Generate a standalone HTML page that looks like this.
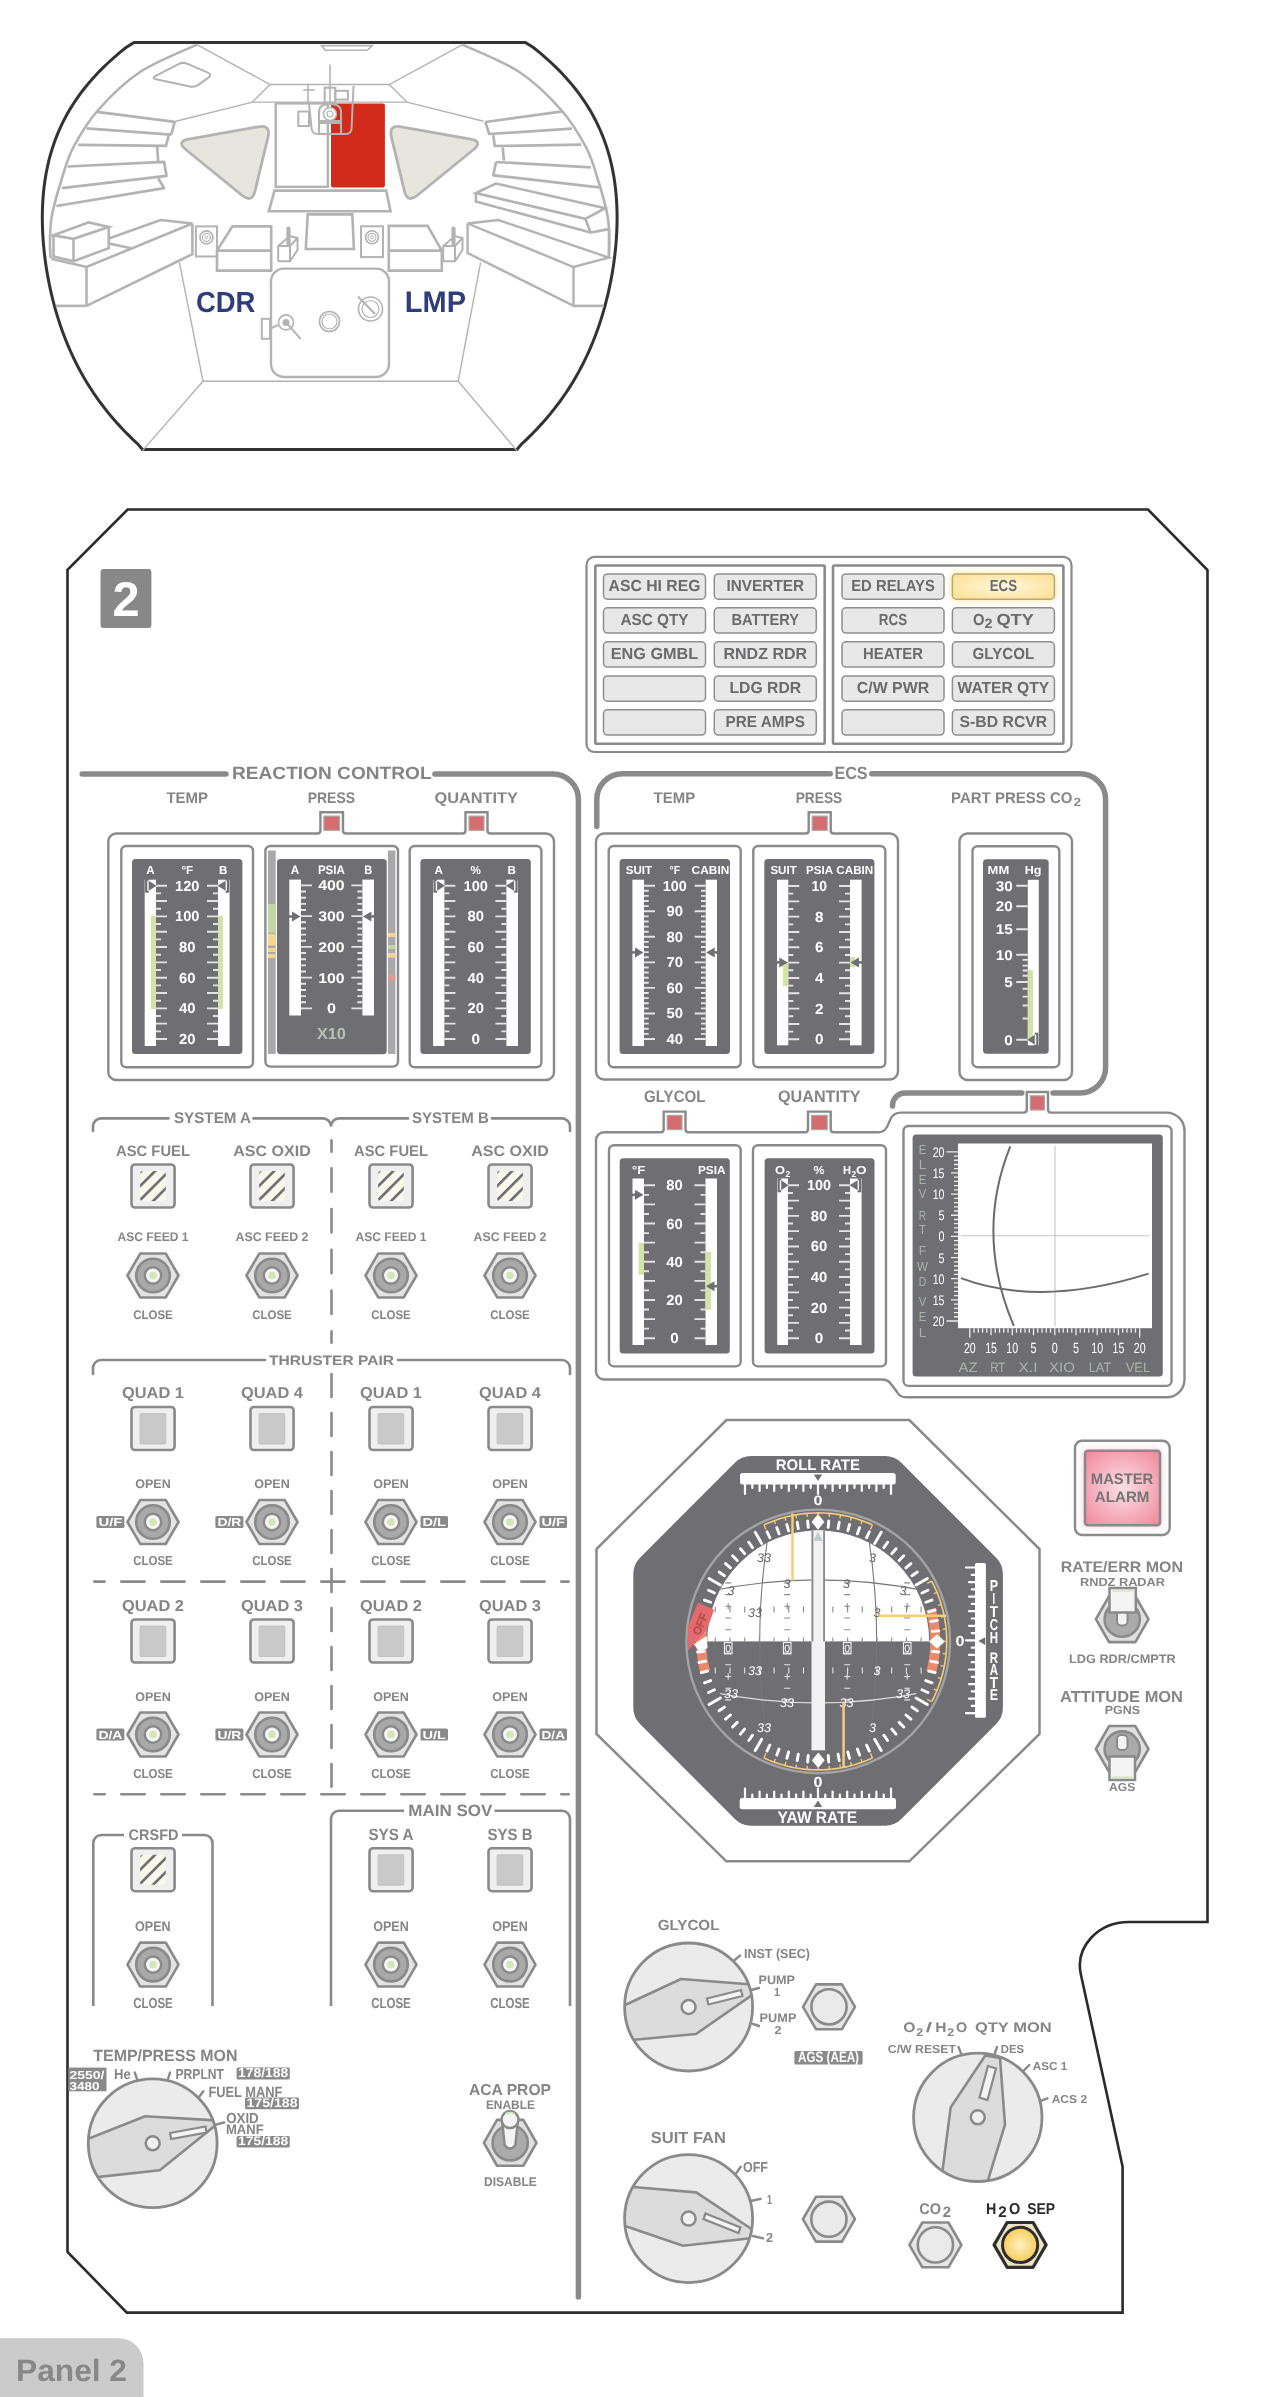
<!DOCTYPE html>
<html><head><meta charset="utf-8"><style>html,body{margin:0;padding:0;background:#fff;width:1275px;height:2397px;overflow:hidden}svg{display:block;opacity:0.999}</style></head>
<body><svg width="1275" height="2397" viewBox="0 0 1275 2397" font-family="Liberation Sans, sans-serif" text-rendering="geometricPrecision">
<path d="M134,42.4 L126.04,47.55 L119.66,52.7 L113.64,57.86 L107.95,63.01 L102.59,68.16 L97.53,73.31 L92.78,78.46 L88.31,83.62 L84.11,88.77 L80.19,93.92 L76.51,99.07 L73.08,104.22 L69.88,109.37 L66.91,114.53 L64.15,119.68 L61.6,124.83 L59.25,129.98 L57.08,135.13 L55.09,140.29 L53.28,145.44 L51.63,150.59 L50.13,155.74 L48.79,160.89 L47.6,166.05 L46.53,171.2 L45.61,176.35 L44.8,181.5 L44.12,186.65 L43.56,191.81 L43.1,196.96 L42.76,202.11 L42.51,207.26 L42.36,212.41 L42.31,217.56 L42.35,222.72 L42.49,227.87 L42.7,233.02 L43.01,238.17 L43.39,243.32 L43.86,248.48 L44.4,253.63 L45.03,258.78 L45.73,263.93 L46.51,269.08 L47.37,274.24 L48.31,279.39 L49.33,284.54 L50.43,289.69 L51.61,294.84 L52.87,299.99 L54.21,305.15 L55.65,310.3 L57.17,315.45 L58.78,320.6 L60.49,325.75 L62.3,330.91 L64.21,336.06 L66.23,341.21 L68.36,346.36 L70.6,351.51 L72.97,356.67 L75.46,361.82 L78.08,366.97 L80.84,372.12 L83.74,377.27 L86.8,382.43 L90.01,387.58 L93.38,392.73 L96.93,397.88 L100.66,403.03 L104.57,408.18 L108.69,413.34 L113,418.49 L117.54,423.64 L122.29,428.79 L127.28,433.94 L132.51,439.1 L138,444.25 L142.4,449.4 L517,449.4 L521.4,444.25 L526.89,439.1 L532.12,433.94 L537.11,428.79 L541.86,423.64 L546.4,418.49 L550.71,413.34 L554.83,408.18 L558.74,403.03 L562.47,397.88 L566.02,392.73 L569.39,387.58 L572.6,382.43 L575.66,377.27 L578.56,372.12 L581.32,366.97 L583.94,361.82 L586.43,356.67 L588.8,351.51 L591.04,346.36 L593.17,341.21 L595.19,336.06 L597.1,330.91 L598.91,325.75 L600.62,320.6 L602.23,315.45 L603.75,310.3 L605.19,305.15 L606.53,299.99 L607.79,294.84 L608.97,289.69 L610.07,284.54 L611.09,279.39 L612.03,274.24 L612.89,269.08 L613.67,263.93 L614.37,258.78 L615,253.63 L615.54,248.48 L616.01,243.32 L616.39,238.17 L616.7,233.02 L616.91,227.87 L617.05,222.72 L617.09,217.56 L617.04,212.41 L616.89,207.26 L616.64,202.11 L616.3,196.96 L615.84,191.81 L615.28,186.65 L614.6,181.5 L613.79,176.35 L612.87,171.2 L611.8,166.05 L610.61,160.89 L609.27,155.74 L607.77,150.59 L606.12,145.44 L604.31,140.29 L602.32,135.13 L600.15,129.98 L597.8,124.83 L595.25,119.68 L592.49,114.53 L589.52,109.37 L586.32,104.22 L582.89,99.07 L579.21,93.92 L575.29,88.77 L571.09,83.62 L566.62,78.46 L561.87,73.31 L556.81,68.16 L551.45,63.01 L545.76,57.86 L539.74,52.7 L533.36,47.55 L525.4,42.4 Z" fill="#fff" stroke="#333" stroke-width="3"/>
<path d="M197,44.6 C187.5,49.17 156.47,61.1 140,72 C123.53,82.9 109.37,97.33 98.2,110 C87.03,122.67 79.13,136.33 73,148 C66.87,159.67 64.9,168.83 61.4,180 C57.9,191.17 53.9,205 52,215 C50.1,225 50.25,232.83 50,240 C49.75,247.17 50.42,255 50.5,258" fill="none" stroke="#b3b3b3" stroke-width="2.6"/>
<path d="M462.4,44.6 C471.9,49.17 502.93,61.1 519.4,72 C535.87,82.9 550.03,97.33 561.2,110 C572.37,122.67 580.27,136.33 586.4,148 C592.53,159.67 594.5,168.83 598,180 C601.5,191.17 605.5,205 607.4,215 C609.3,225 609.15,232.83 609.4,240 C609.65,247.17 608.98,255 608.9,258" fill="none" stroke="#b3b3b3" stroke-width="2.6"/>
<polyline points="197,44.6 270,84.5 389.3,84.5 462.4,44.6" fill="none" stroke="#b3b3b3" stroke-width="1.4"/>
<polyline points="270,84.5 252.5,102.1 406.9,102.1 389.3,84.5" fill="none" stroke="#b3b3b3" stroke-width="1.4"/>
<polyline points="175.9,121.3 252.5,102.1" fill="none" stroke="#b3b3b3" stroke-width="1.4"/>
<polyline points="483.5,121.3 406.9,102.1" fill="none" stroke="#b3b3b3" stroke-width="1.4"/>
<polygon points="321.5,45.6 372.3,45.6 367.3,50.3 325.3,50.3" fill="none" stroke="#b3b3b3" stroke-width="1.6"/>
<path d="M156.09,79.26 Q151.2,78.2 155.64,75.91 L178.56,64.09 Q183,61.8 187.58,63.81 L207.82,72.69 Q212.4,74.7 208.36,77.64 L198.74,84.66 Q194.7,87.6 189.81,86.54 Z" fill="none" stroke="#b3b3b3" stroke-width="2"/>
<polyline points="97.1,111.9 174.7,121.8 171.2,134.7" fill="none" stroke="#b3b3b3" stroke-width="2.7" stroke-linejoin="round"/>
<polyline points="86.5,128.4 171.2,134.7" fill="none" stroke="#b3b3b3" stroke-width="2.7" stroke-linejoin="round"/>
<polyline points="168.8,134.7 166,145.8 78.2,144.8" fill="none" stroke="#b3b3b3" stroke-width="2.7" stroke-linejoin="round"/>
<polyline points="157.1,145.8 158.2,161.5" fill="none" stroke="#b3b3b3" stroke-width="2.7" stroke-linejoin="round"/>
<polyline points="67.6,166.5 164.1,161.8 166.5,175.9 61.8,188.1" fill="none" stroke="#b3b3b3" stroke-width="2.7" stroke-linejoin="round"/>
<polyline points="158.2,178.2 164.1,188.1 56.4,206" fill="none" stroke="#b3b3b3" stroke-width="2.7" stroke-linejoin="round"/>
<polyline points="485.3,122 562.7,111.3" fill="none" stroke="#b3b3b3" stroke-width="2.7" stroke-linejoin="round"/>
<polyline points="485.3,122 489.3,134 572,128.7" fill="none" stroke="#b3b3b3" stroke-width="2.7" stroke-linejoin="round"/>
<polyline points="493.3,135.3 494.7,146 581.3,144.7" fill="none" stroke="#b3b3b3" stroke-width="2.7" stroke-linejoin="round"/>
<polyline points="502.7,147.3 504,160.7" fill="none" stroke="#b3b3b3" stroke-width="2.7" stroke-linejoin="round"/>
<polyline points="496,162 493.3,175.3 598.7,187.3" fill="none" stroke="#b3b3b3" stroke-width="2.7" stroke-linejoin="round"/>
<polyline points="496,162 590.7,167.3" fill="none" stroke="#b3b3b3" stroke-width="2.7" stroke-linejoin="round"/>
<path d="M186.07,149.72 Q176,141.5 188.8,139.21 L258.2,126.79 Q271,124.5 267.96,137.14 L255.04,190.86 Q252,203.5 241.93,195.28 Z" fill="#e6e6df" stroke="#b3b3b3" stroke-width="2.8"/>
<path d="M473.33,149.72 Q483.4,141.5 470.6,139.21 L401.2,126.79 Q388.4,124.5 391.44,137.14 L404.36,190.86 Q407.4,203.5 417.47,195.28 Z" fill="#e6e6df" stroke="#b3b3b3" stroke-width="2.8"/>
<rect x="275.7" y="103.4" width="52.1" height="83.4" fill="none" stroke="#b3b3b3" stroke-width="2.4"/>
<rect x="331" y="103.4" width="53.9" height="84" rx="2" fill="#d22a1b"/>
<line x1="330" y1="64.5" x2="330" y2="103" stroke="#b3b3b3" stroke-width="1.6"/>
<path d="M309,103.4 L311.5,128 Q312,134.1 318,134.1 L345,134.1 Q351.6,134.1 351.6,128 L353.5,86" fill="none" stroke="#b3b3b3" stroke-width="2"/>
<rect x="298.3" y="111.5" width="10.7" height="14.5" fill="none" stroke="#b3b3b3" stroke-width="2"/>
<rect x="324.7" y="87.7" width="10.6" height="15" fill="none" stroke="#b3b3b3" stroke-width="2"/>
<rect x="335.3" y="90.8" width="12.6" height="8.8" fill="none" stroke="#b3b3b3" stroke-width="2"/>
<path d="M319,134 L319,112 Q319,104 330,104 Q341,104 341,112 L341,134" fill="none" stroke="#b3b3b3" stroke-width="2"/>
<circle cx="330" cy="114" r="6.5" fill="#fff" stroke="#b3b3b3" stroke-width="1.5"/>
<circle cx="330" cy="114" r="3" fill="none" stroke="#b3b3b3" stroke-width="1.2"/>
<rect x="318" y="120" width="22" height="4" fill="#b3b3b3"/>
<line x1="308" y1="84" x2="308" y2="103" stroke="#b3b3b3" stroke-width="1.6"/>
<line x1="303.3" y1="90" x2="315" y2="90" stroke="#b3b3b3" stroke-width="1.6"/>
<polygon points="274.5,190.6 386.2,190.6 390.5,211.3 268.8,211.3" fill="none" stroke="#b3b3b3" stroke-width="2.6"/>
<polygon points="307.7,214.4 352.3,214.4 353.9,249 305.8,249" fill="none" stroke="#b3b3b3" stroke-width="2.6"/>
<rect x="195.9" y="226.4" width="21.1" height="30.1" fill="none" stroke="#b3b3b3" stroke-width="2"/>
<circle cx="206.45" cy="237.4" r="6.5" fill="none" stroke="#b3b3b3" stroke-width="1.6"/>
<circle cx="206.45" cy="237.4" r="4" fill="none" stroke="#b3b3b3" stroke-width="1.2"/>
<circle cx="206.45" cy="237.4" r="1.5" fill="none" stroke="#b3b3b3" stroke-width="1"/>
<rect x="361" y="226.3" width="22" height="30.8" fill="none" stroke="#b3b3b3" stroke-width="2"/>
<circle cx="372" cy="237.3" r="6.5" fill="none" stroke="#b3b3b3" stroke-width="1.6"/>
<circle cx="372" cy="237.3" r="4" fill="none" stroke="#b3b3b3" stroke-width="1.2"/>
<circle cx="372" cy="237.3" r="1.5" fill="none" stroke="#b3b3b3" stroke-width="1"/>
<polyline points="217,250.6 232.4,226.4 271.2,226.4 271.2,270.6 217,270.6 217,250.6 271.2,250.6" fill="none" stroke="#b3b3b3" stroke-width="2.6"/>
<polyline points="441.8,250.6 427.6,225.9 388.8,225.9 388.8,270.6 441.8,270.6 441.8,250.6 388.8,250.6" fill="none" stroke="#b3b3b3" stroke-width="2.6"/>
<polyline points="278.2,261.2 278.2,246 290,236 297.5,238 297.5,250 290,261.2 278.2,261.2" fill="none" stroke="#b3b3b3" stroke-width="2"/>
<polyline points="278.2,246 290,246 297.5,238" fill="none" stroke="#b3b3b3" stroke-width="2"/>
<polyline points="290,246 290,261.2" fill="none" stroke="#b3b3b3" stroke-width="2"/>
<line x1="288.5" y1="228.5" x2="288.5" y2="244" stroke="#b3b3b3" stroke-width="4.2" stroke-linecap="round"/>
<polyline points="443.2,261.2 443.2,246 455,236 462.5,238 462.5,250 455,261.2 443.2,261.2" fill="none" stroke="#b3b3b3" stroke-width="2"/>
<polyline points="443.2,246 455,246 462.5,238" fill="none" stroke="#b3b3b3" stroke-width="2"/>
<polyline points="455,246 455,261.2" fill="none" stroke="#b3b3b3" stroke-width="2"/>
<line x1="453.5" y1="228.5" x2="453.5" y2="244" stroke="#b3b3b3" stroke-width="4.2" stroke-linecap="round"/>
<rect x="271" y="268.6" width="118" height="108.4" rx="13" fill="#fff" stroke="#b3b3b3" stroke-width="2.4"/>
<rect x="261.8" y="318.8" width="8.2" height="20" fill="none" stroke="#b3b3b3" stroke-width="2"/>
<line x1="270" y1="328.8" x2="278" y2="325" stroke="#b3b3b3" stroke-width="2"/>
<circle cx="286" cy="322.4" r="7.5" fill="none" stroke="#b3b3b3" stroke-width="1.6"/>
<circle cx="286" cy="322.4" r="3.5" fill="#b3b3b3"/>
<line x1="286" y1="322.4" x2="300.6" y2="338.8" stroke="#b3b3b3" stroke-width="2"/>
<circle cx="329.5" cy="321.5" r="10" fill="none" stroke="#b3b3b3" stroke-width="1.6"/>
<circle cx="329.5" cy="321.5" r="7.5" fill="none" stroke="#b3b3b3" stroke-width="1.2"/>
<circle cx="370.5" cy="309" r="12" fill="none" stroke="#b3b3b3" stroke-width="1.6"/>
<circle cx="370.5" cy="309" r="8.5" fill="none" stroke="#b3b3b3" stroke-width="1.2"/>
<line x1="358" y1="296.5" x2="375" y2="314" stroke="#b3b3b3" stroke-width="2"/>
<polygon points="53.5,235.3 88.8,222.4 108.8,227 73.5,238.8" fill="none" stroke="#b3b3b3" stroke-width="2.6"/>
<polyline points="53.5,235.3 53.5,256.5 73.5,261.2 73.5,238.8" fill="none" stroke="#b3b3b3" stroke-width="2.6"/>
<polyline points="73.5,261.2 108.8,248.2 108.8,227" fill="none" stroke="#b3b3b3" stroke-width="2.6"/>
<polyline points="51.2,258.8 86.5,267 192.4,223.5 160.6,220 108.8,238.5" fill="none" stroke="#b3b3b3" stroke-width="2.6"/>
<polyline points="108.8,243.5 131.2,248.2" fill="none" stroke="#b3b3b3" stroke-width="2.6"/>
<polyline points="86.5,267 86.5,305.9" fill="none" stroke="#b3b3b3" stroke-width="2.6"/>
<polyline points="192.4,223.5 192.4,254.1 86.5,305.9" fill="none" stroke="#b3b3b3" stroke-width="2.6"/>
<polyline points="55.8,305.9 86.5,305.9" fill="none" stroke="#b3b3b3" stroke-width="2.6"/>
<polygon points="467.6,223.5 498.2,220 608.8,257.6 573.5,267" fill="none" stroke="#b3b3b3" stroke-width="2.4"/>
<polyline points="467.6,223.5 467.6,253 573.5,305.9 573.5,267" fill="none" stroke="#b3b3b3" stroke-width="2.4"/>
<polyline points="608.8,257.6 609,229.1" fill="none" stroke="#b3b3b3" stroke-width="2.4"/>
<polyline points="573.5,305.9 604,305.9" fill="none" stroke="#b3b3b3" stroke-width="2.6"/>
<polygon points="475.9,193 495.9,183.5 605.3,208.2 585.3,218.8" fill="none" stroke="#b3b3b3" stroke-width="2.6"/>
<polyline points="475.9,193 475.9,201.5 590.6,232.6" fill="none" stroke="#b3b3b3" stroke-width="2.6"/>
<polyline points="585.3,218.8 590.6,232.6 609,229.1" fill="none" stroke="#b3b3b3" stroke-width="2.6"/>
<polyline points="179.4,262.4 203,381.2 458.2,381.2 480.6,262.4" fill="none" stroke="#b3b3b3" stroke-width="1.4"/>
<line x1="203" y1="381.2" x2="142.5" y2="450.6" stroke="#b3b3b3" stroke-width="1.4"/>
<line x1="458.2" y1="381.2" x2="516.9" y2="450.6" stroke="#b3b3b3" stroke-width="1.4"/>
<text x="225.65" y="311.8" font-size="29.07" fill="#2f3d7a" text-anchor="middle" font-weight="bold" textLength="59.5" lengthAdjust="spacingAndGlyphs">CDR</text>
<text x="435.4" y="312.2" font-size="29.65" fill="#2f3d7a" text-anchor="middle" font-weight="bold" textLength="61.2" lengthAdjust="spacingAndGlyphs">LMP</text>
<path d="M127.6,509.5 L1148,509.5 L1207.5,570 L1207.5,1922 L1129,1922 C1098,1922 1074.5,1947 1081,1975 L1122.6,2166.7 L1122.6,2312.6 L126.8,2312.6 L67.5,2252 L67.5,569.8 Z" fill="#fff" stroke="#2b2b2b" stroke-width="2.6"/>
<rect x="100.5" y="569" width="50.9" height="59" rx="3" fill="#888888"/>
<text x="126.15" y="616.4" font-size="48.84" fill="#fff" text-anchor="middle" font-weight="bold" textLength="27.1" lengthAdjust="spacingAndGlyphs">2</text>
<rect x="586.5" y="556.9" width="485" height="195.1" rx="8" fill="none" stroke="#8a8a8c" stroke-width="2.2"/>
<rect x="595.3" y="565.5" width="229.4" height="178.2" rx="1.5" fill="none" stroke="#8a8a8c" stroke-width="2.6"/>
<rect x="833" y="565.5" width="230.4" height="178.2" rx="1.5" fill="none" stroke="#8a8a8c" stroke-width="2.6"/>
<defs><radialGradient id="ecsg" cx="50%" cy="50%" r="60%"><stop offset="0" stop-color="#fff7dc"/><stop offset="1" stop-color="#fde39a"/></radialGradient><filter id="blur3" x="-30%" y="-80%" width="160%" height="260%"><feGaussianBlur stdDeviation="3"/></filter></defs>
<rect x="603.5" y="573.9" width="102" height="25.3" rx="4" fill="#e8e8e8" stroke="#8e8e8e" stroke-width="1.5"/>
<text x="654.5" y="591.2" font-size="15.99" fill="#6b6b6d" text-anchor="middle" font-weight="bold" textLength="92" lengthAdjust="spacingAndGlyphs">ASC HI REG</text>
<rect x="603.5" y="607.8" width="102" height="25.3" rx="4" fill="#e8e8e8" stroke="#8e8e8e" stroke-width="1.5"/>
<text x="654.5" y="625.1" font-size="15.99" fill="#6b6b6d" text-anchor="middle" font-weight="bold" textLength="68.2" lengthAdjust="spacingAndGlyphs">ASC QTY</text>
<rect x="603.5" y="641.8" width="102" height="25.3" rx="4" fill="#e8e8e8" stroke="#8e8e8e" stroke-width="1.5"/>
<text x="654.5" y="659.1" font-size="15.99" fill="#6b6b6d" text-anchor="middle" font-weight="bold" textLength="87.6" lengthAdjust="spacingAndGlyphs">ENG GMBL</text>
<rect x="603.5" y="675.9" width="102" height="25.3" rx="4" fill="#e8e8e8" stroke="#8e8e8e" stroke-width="1.5"/>
<rect x="603.5" y="709.8" width="102" height="25.3" rx="4" fill="#e8e8e8" stroke="#8e8e8e" stroke-width="1.5"/>
<rect x="714.3" y="573.9" width="102" height="25.3" rx="4" fill="#e8e8e8" stroke="#8e8e8e" stroke-width="1.5"/>
<text x="765.3" y="591.2" font-size="15.99" fill="#6b6b6d" text-anchor="middle" font-weight="bold" textLength="77.5" lengthAdjust="spacingAndGlyphs">INVERTER</text>
<rect x="714.3" y="607.8" width="102" height="25.3" rx="4" fill="#e8e8e8" stroke="#8e8e8e" stroke-width="1.5"/>
<text x="765.3" y="625.1" font-size="15.99" fill="#6b6b6d" text-anchor="middle" font-weight="bold" textLength="67.6" lengthAdjust="spacingAndGlyphs">BATTERY</text>
<rect x="714.3" y="641.8" width="102" height="25.3" rx="4" fill="#e8e8e8" stroke="#8e8e8e" stroke-width="1.5"/>
<text x="765.3" y="659.1" font-size="15.99" fill="#6b6b6d" text-anchor="middle" font-weight="bold" textLength="83.7" lengthAdjust="spacingAndGlyphs">RNDZ RDR</text>
<rect x="714.3" y="675.9" width="102" height="25.3" rx="4" fill="#e8e8e8" stroke="#8e8e8e" stroke-width="1.5"/>
<text x="765.3" y="693.2" font-size="15.99" fill="#6b6b6d" text-anchor="middle" font-weight="bold" textLength="71.6" lengthAdjust="spacingAndGlyphs">LDG RDR</text>
<rect x="714.3" y="709.8" width="102" height="25.3" rx="4" fill="#e8e8e8" stroke="#8e8e8e" stroke-width="1.5"/>
<text x="765.3" y="727.1" font-size="15.99" fill="#6b6b6d" text-anchor="middle" font-weight="bold" textLength="79.4" lengthAdjust="spacingAndGlyphs">PRE AMPS</text>
<rect x="842" y="573.9" width="102" height="25.3" rx="4" fill="#e8e8e8" stroke="#8e8e8e" stroke-width="1.5"/>
<text x="893" y="591.2" font-size="15.99" fill="#6b6b6d" text-anchor="middle" font-weight="bold" textLength="83.6" lengthAdjust="spacingAndGlyphs">ED RELAYS</text>
<rect x="842" y="607.8" width="102" height="25.3" rx="4" fill="#e8e8e8" stroke="#8e8e8e" stroke-width="1.5"/>
<text x="893" y="625.1" font-size="15.99" fill="#6b6b6d" text-anchor="middle" font-weight="bold" textLength="28.4" lengthAdjust="spacingAndGlyphs">RCS</text>
<rect x="842" y="641.8" width="102" height="25.3" rx="4" fill="#e8e8e8" stroke="#8e8e8e" stroke-width="1.5"/>
<text x="893" y="659.1" font-size="15.99" fill="#6b6b6d" text-anchor="middle" font-weight="bold" textLength="60" lengthAdjust="spacingAndGlyphs">HEATER</text>
<rect x="842" y="675.9" width="102" height="25.3" rx="4" fill="#e8e8e8" stroke="#8e8e8e" stroke-width="1.5"/>
<text x="893" y="693.2" font-size="15.99" fill="#6b6b6d" text-anchor="middle" font-weight="bold" textLength="72.4" lengthAdjust="spacingAndGlyphs">C/W PWR</text>
<rect x="842" y="709.8" width="102" height="25.3" rx="4" fill="#e8e8e8" stroke="#8e8e8e" stroke-width="1.5"/>
<rect x="950.4" y="571.9" width="106" height="29.3" rx="6" fill="#fde9a8" filter="url(#blur3)" opacity="0.9"/>
<rect x="952.4" y="573.9" width="102" height="25.3" rx="4" fill="url(#ecsg)" stroke="#b9a873" stroke-width="1.5"/>
<text x="1003.4" y="591.2" font-size="15.99" fill="#6b6b6d" text-anchor="middle" font-weight="bold" textLength="27.4" lengthAdjust="spacingAndGlyphs">ECS</text>
<rect x="952.4" y="607.8" width="102" height="25.3" rx="4" fill="#e8e8e8" stroke="#8e8e8e" stroke-width="1.5"/>
<text x="972.9" y="625.1" font-size="15.99" fill="#6b6b6d" font-weight="bold" textLength="11.5" lengthAdjust="spacingAndGlyphs">O</text>
<text x="984.4" y="627.8" font-size="13.5" fill="#6b6b6d" font-weight="bold" textLength="8" lengthAdjust="spacingAndGlyphs">2</text>
<text x="996.4" y="625.1" font-size="15.99" fill="#6b6b6d" font-weight="bold" textLength="37.5" lengthAdjust="spacingAndGlyphs">QTY</text>
<rect x="952.4" y="641.8" width="102" height="25.3" rx="4" fill="#e8e8e8" stroke="#8e8e8e" stroke-width="1.5"/>
<text x="1003.4" y="659.1" font-size="15.99" fill="#6b6b6d" text-anchor="middle" font-weight="bold" textLength="61.6" lengthAdjust="spacingAndGlyphs">GLYCOL</text>
<rect x="952.4" y="675.9" width="102" height="25.3" rx="4" fill="#e8e8e8" stroke="#8e8e8e" stroke-width="1.5"/>
<text x="1003.4" y="693.2" font-size="15.99" fill="#6b6b6d" text-anchor="middle" font-weight="bold" textLength="91.6" lengthAdjust="spacingAndGlyphs">WATER QTY</text>
<rect x="952.4" y="709.8" width="102" height="25.3" rx="4" fill="#e8e8e8" stroke="#8e8e8e" stroke-width="1.5"/>
<text x="1003.4" y="727.1" font-size="15.99" fill="#6b6b6d" text-anchor="middle" font-weight="bold" textLength="87.6" lengthAdjust="spacingAndGlyphs">S-BD RCVR</text>
<path d="M82.2,774 L226,774" fill="none" stroke="#8a8a8c" stroke-width="5.5" stroke-linecap="round" stroke-linejoin="round"/>
<path d="M434.9,774 L553,774 A25.4,25.4 0 0 1 578.4,799.4 L578.4,2297" fill="none" stroke="#8a8a8c" stroke-width="5.5" stroke-linecap="round" stroke-linejoin="round"/>
<path d="M596.8,826.4 L596.8,799.4 A25.6,25.6 0 0 1 622.4,773.8 L830.2,773.8" fill="none" stroke="#8a8a8c" stroke-width="5.5" stroke-linecap="round" stroke-linejoin="round"/>
<path d="M871.8,773.8 L1080,773.8 A25.6,25.6 0 0 1 1105.6,799.4 L1105.6,1067.4 A25.6,25.6 0 0 1 1080,1093 L1053,1093" fill="none" stroke="#8a8a8c" stroke-width="5.5" stroke-linecap="round" stroke-linejoin="round"/>
<path d="M1021.8,1093 L905,1093 A12.5,12.5 0 0 0 892.5,1105.5 L892.5,1106" fill="none" stroke="#8a8a8c" stroke-width="5.5" stroke-linecap="round" stroke-linejoin="round"/>
<text x="331.8" y="779.4" font-size="17.73" fill="#858585" text-anchor="middle" font-weight="bold" textLength="199.6" lengthAdjust="spacingAndGlyphs">REACTION CONTROL</text>
<text x="851" y="779.4" font-size="17.73" fill="#858585" text-anchor="middle" font-weight="bold" textLength="33.2" lengthAdjust="spacingAndGlyphs">ECS</text>
<text x="187.2" y="802.8" font-size="15.41" fill="#858585" text-anchor="middle" font-weight="bold" textLength="41.6" lengthAdjust="spacingAndGlyphs">TEMP</text>
<text x="331.4" y="802.8" font-size="15.41" fill="#858585" text-anchor="middle" font-weight="bold" textLength="47.4" lengthAdjust="spacingAndGlyphs">PRESS</text>
<text x="476.25" y="802.8" font-size="15.41" fill="#858585" text-anchor="middle" font-weight="bold" textLength="83.5" lengthAdjust="spacingAndGlyphs">QUANTITY</text>
<text x="674.4" y="802.8" font-size="15.41" fill="#858585" text-anchor="middle" font-weight="bold" textLength="41.6" lengthAdjust="spacingAndGlyphs">TEMP</text>
<text x="819" y="802.8" font-size="15.41" fill="#858585" text-anchor="middle" font-weight="bold" textLength="46.6" lengthAdjust="spacingAndGlyphs">PRESS</text>
<text x="951" y="802.8" font-size="15.41" fill="#858585" font-weight="bold" textLength="121.5" lengthAdjust="spacingAndGlyphs">PART PRESS CO</text>
<text x="1073.6" y="805.7" font-size="11.77" fill="#858585" font-weight="bold" textLength="7.5" lengthAdjust="spacingAndGlyphs">2</text>
<path d="M108.3,841.5 A8,8 0 0 1 116.3,833.5 L317.4,833.5 Q320.4,833.5 320.4,830.5 L320.4,812.3 L343,812.3 L343,830.5 Q343,833.5 346,833.5 L462.5,833.5 Q465.5,833.5 465.5,830.5 L465.5,812.3 L487.5,812.3 L487.5,830.5 Q487.5,833.5 490.5,833.5 L546,833.5 A8,8 0 0 1 554,841.5 L554,1072 A8,8 0 0 1 546,1080 L116.3,1080 A8,8 0 0 1 108.3,1072 Z" fill="none" stroke="#8a8a8c" stroke-width="2.4"/>
<rect x="323.9" y="816.1" width="15.6" height="14.2" fill="#d56c6f" stroke="#a9a9a9" stroke-width="1.2"/>
<rect x="469" y="816.1" width="15" height="14.2" fill="#d56c6f" stroke="#a9a9a9" stroke-width="1.2"/>
<rect x="121.3" y="846" width="131.7" height="221.3" rx="5" fill="#fff" stroke="#8a8a8c" stroke-width="2.4"/>
<rect x="132" y="859" width="110.4" height="195" rx="3.5" fill="#6f6e73"/>
<rect x="144.7" y="879.7" width="11.3" height="166.3" fill="#fff"/>
<rect x="218" y="879.7" width="11.6" height="166.3" fill="#fff"/>
<rect x="151" y="915.7" width="5" height="93.3" fill="#d3e2a6"/>
<rect x="218" y="915.7" width="5" height="93.3" fill="#d3e2a6"/>
<path d="M156,885.7H167M156,893.37H161M156,901.03H167M156,908.7H161M156,916.36H167M156,924.03H161M156,931.69H167M156,939.36H161M156,947.02H167M156,954.69H161M156,962.35H167M156,970.02H161M156,977.68H167M156,985.35H161M156,993.01H167M156,1000.68H161M156,1008.34H167M156,1016.01H161M156,1023.67H167M156,1031.34H161M156,1039H167" fill="none" stroke="#e4e4e4" stroke-width="1.9"/>
<path d="M218,885.7H207M218,893.37H213M218,901.03H207M218,908.7H213M218,916.36H207M218,924.03H213M218,931.69H207M218,939.36H213M218,947.02H207M218,954.69H213M218,962.35H207M218,970.02H213M218,977.68H207M218,985.35H213M218,993.01H207M218,1000.68H213M218,1008.34H207M218,1016.01H213M218,1023.67H207M218,1031.34H213M218,1039H207" fill="none" stroke="#e4e4e4" stroke-width="1.9"/>
<text x="187.3" y="890.7" font-size="14.53" fill="#fff" text-anchor="middle" font-weight="bold" textLength="24.4" lengthAdjust="spacingAndGlyphs">120</text>
<text x="187.3" y="921.36" font-size="14.53" fill="#fff" text-anchor="middle" font-weight="bold" textLength="24.4" lengthAdjust="spacingAndGlyphs">100</text>
<text x="187.3" y="952.02" font-size="14.53" fill="#fff" text-anchor="middle" font-weight="bold" textLength="16.5" lengthAdjust="spacingAndGlyphs">80</text>
<text x="187.3" y="982.68" font-size="14.53" fill="#fff" text-anchor="middle" font-weight="bold" textLength="16.5" lengthAdjust="spacingAndGlyphs">60</text>
<text x="187.3" y="1013.34" font-size="14.53" fill="#fff" text-anchor="middle" font-weight="bold" textLength="16.5" lengthAdjust="spacingAndGlyphs">40</text>
<text x="187.3" y="1044" font-size="14.53" fill="#fff" text-anchor="middle" font-weight="bold" textLength="16.5" lengthAdjust="spacingAndGlyphs">20</text>
<text x="150.4" y="874" font-size="11.63" fill="#fff" text-anchor="middle" font-weight="bold">A</text>
<text x="187.3" y="874" font-size="11.63" fill="#fff" text-anchor="middle" font-weight="bold">°F</text>
<text x="223.3" y="874" font-size="11.63" fill="#fff" text-anchor="middle" font-weight="bold">B</text>
<polyline points="146.2,879.7 146.2,891.7" fill="none" stroke="#6f6e73" stroke-width="2.2"/><polyline points="145.2,879.7 148.7,879.7" fill="none" stroke="#6f6e73" stroke-width="2"/><polyline points="145.2,891.7 148.7,891.7" fill="none" stroke="#6f6e73" stroke-width="2"/><polygon points="156.5,885.7 148.7,880.7 148.7,890.7" fill="#6f6e73" stroke="none" stroke-width="0"/>
<polyline points="228.1,879.7 228.1,891.7" fill="none" stroke="#6f6e73" stroke-width="2.2"/><polyline points="229.1,879.7 225.6,879.7" fill="none" stroke="#6f6e73" stroke-width="2"/><polyline points="229.1,891.7 225.6,891.7" fill="none" stroke="#6f6e73" stroke-width="2"/><polygon points="217.5,885.7 225.6,880.7 225.6,890.7" fill="#6f6e73" stroke="none" stroke-width="0"/>
<rect x="409.7" y="846" width="131.7" height="221.3" rx="5" fill="#fff" stroke="#8a8a8c" stroke-width="2.4"/>
<rect x="420.4" y="859" width="110.4" height="195" rx="3.5" fill="#6f6e73"/>
<rect x="433.1" y="879.7" width="11.3" height="166.3" fill="#fff"/>
<rect x="506.4" y="879.7" width="11.6" height="166.3" fill="#fff"/>
<path d="M444.4,885.7H455.4M444.4,893.37H449.4M444.4,901.03H455.4M444.4,908.7H449.4M444.4,916.36H455.4M444.4,924.03H449.4M444.4,931.69H455.4M444.4,939.36H449.4M444.4,947.02H455.4M444.4,954.69H449.4M444.4,962.35H455.4M444.4,970.02H449.4M444.4,977.68H455.4M444.4,985.35H449.4M444.4,993.01H455.4M444.4,1000.68H449.4M444.4,1008.34H455.4M444.4,1016.01H449.4M444.4,1023.67H455.4M444.4,1031.34H449.4M444.4,1039H455.4" fill="none" stroke="#e4e4e4" stroke-width="1.9"/>
<path d="M506.4,885.7H495.4M506.4,893.37H501.4M506.4,901.03H495.4M506.4,908.7H501.4M506.4,916.36H495.4M506.4,924.03H501.4M506.4,931.69H495.4M506.4,939.36H501.4M506.4,947.02H495.4M506.4,954.69H501.4M506.4,962.35H495.4M506.4,970.02H501.4M506.4,977.68H495.4M506.4,985.35H501.4M506.4,993.01H495.4M506.4,1000.68H501.4M506.4,1008.34H495.4M506.4,1016.01H501.4M506.4,1023.67H495.4M506.4,1031.34H501.4M506.4,1039H495.4" fill="none" stroke="#e4e4e4" stroke-width="1.9"/>
<text x="475.7" y="890.7" font-size="14.53" fill="#fff" text-anchor="middle" font-weight="bold" textLength="24.4" lengthAdjust="spacingAndGlyphs">100</text>
<text x="475.7" y="921.36" font-size="14.53" fill="#fff" text-anchor="middle" font-weight="bold" textLength="16.5" lengthAdjust="spacingAndGlyphs">80</text>
<text x="475.7" y="952.02" font-size="14.53" fill="#fff" text-anchor="middle" font-weight="bold" textLength="16.5" lengthAdjust="spacingAndGlyphs">60</text>
<text x="475.7" y="982.68" font-size="14.53" fill="#fff" text-anchor="middle" font-weight="bold" textLength="16.5" lengthAdjust="spacingAndGlyphs">40</text>
<text x="475.7" y="1013.34" font-size="14.53" fill="#fff" text-anchor="middle" font-weight="bold" textLength="16.5" lengthAdjust="spacingAndGlyphs">20</text>
<text x="475.7" y="1044" font-size="14.53" fill="#fff" text-anchor="middle" font-weight="bold" textLength="8.5" lengthAdjust="spacingAndGlyphs">0</text>
<text x="438.8" y="874" font-size="11.63" fill="#fff" text-anchor="middle" font-weight="bold">A</text>
<text x="475.7" y="874" font-size="11.63" fill="#fff" text-anchor="middle" font-weight="bold">%</text>
<text x="511.7" y="874" font-size="11.63" fill="#fff" text-anchor="middle" font-weight="bold">B</text>
<polyline points="434.6,879.7 434.6,891.7" fill="none" stroke="#6f6e73" stroke-width="2.2"/><polyline points="433.6,879.7 437.1,879.7" fill="none" stroke="#6f6e73" stroke-width="2"/><polyline points="433.6,891.7 437.1,891.7" fill="none" stroke="#6f6e73" stroke-width="2"/><polygon points="444.9,885.7 437.1,880.7 437.1,890.7" fill="#6f6e73" stroke="none" stroke-width="0"/>
<polyline points="516.5,879.7 516.5,891.7" fill="none" stroke="#6f6e73" stroke-width="2.2"/><polyline points="517.5,879.7 514,879.7" fill="none" stroke="#6f6e73" stroke-width="2"/><polyline points="517.5,891.7 514,891.7" fill="none" stroke="#6f6e73" stroke-width="2"/><polygon points="505.9,885.7 514,880.7 514,890.7" fill="#6f6e73" stroke="none" stroke-width="0"/>
<rect x="265.4" y="846" width="132.6" height="220.6" rx="5" fill="#fff" stroke="#8a8a8c" stroke-width="2.4"/>
<rect x="277" y="859" width="109.7" height="195.3" rx="3.5" fill="#6f6e73"/>
<rect x="268" y="850.5" width="7.7" height="203.5" fill="#a9a9a9"/>
<rect x="388" y="850.5" width="7.4" height="203.5" fill="#a9a9a9"/>
<rect x="268" y="904" width="7.7" height="29" fill="#c2d6a2"/>
<rect x="268" y="934" width="7.7" height="11.6" fill="#f6d58e"/>
<rect x="268" y="948" width="7.7" height="4" fill="#f6d58e"/>
<rect x="268" y="954" width="7.7" height="4" fill="#f6d58e"/>
<rect x="388" y="933" width="7.4" height="4" fill="#f6d58e"/>
<rect x="388" y="945" width="7.4" height="4" fill="#c2d6a2"/>
<rect x="388" y="953" width="7.4" height="4.6" fill="#f6d58e"/>
<rect x="388" y="975" width="7.4" height="5.5" fill="#e39a8e"/>
<rect x="289.3" y="879.6" width="11.7" height="135.9" fill="#fff"/>
<rect x="362.4" y="879.6" width="11.6" height="135.9" fill="#fff"/>
<path d="M301,885.4H312M301,891.55H306M301,897.7H306M301,903.85H306M301,910H306M301,916.15H312M301,922.3H306M301,928.45H306M301,934.6H306M301,940.75H306M301,946.9H312M301,953.05H306M301,959.2H306M301,965.35H306M301,971.5H306M301,977.65H312M301,983.8H306M301,989.95H306M301,996.1H306M301,1002.25H306M301,1008.4H312" fill="none" stroke="#e4e4e4" stroke-width="1.9"/>
<path d="M362.4,885.4H351.4M362.4,891.55H357.4M362.4,897.7H357.4M362.4,903.85H357.4M362.4,910H357.4M362.4,916.15H351.4M362.4,922.3H357.4M362.4,928.45H357.4M362.4,934.6H357.4M362.4,940.75H357.4M362.4,946.9H351.4M362.4,953.05H357.4M362.4,959.2H357.4M362.4,965.35H357.4M362.4,971.5H357.4M362.4,977.65H351.4M362.4,983.8H357.4M362.4,989.95H357.4M362.4,996.1H357.4M362.4,1002.25H357.4M362.4,1008.4H351.4" fill="none" stroke="#e4e4e4" stroke-width="1.9"/>
<text x="331.4" y="890.25" font-size="14.1" fill="#fff" text-anchor="middle" font-weight="bold" textLength="26.5" lengthAdjust="spacingAndGlyphs">400</text>
<text x="331.4" y="921" font-size="14.1" fill="#fff" text-anchor="middle" font-weight="bold" textLength="26.5" lengthAdjust="spacingAndGlyphs">300</text>
<text x="331.4" y="951.75" font-size="14.1" fill="#fff" text-anchor="middle" font-weight="bold" textLength="26.5" lengthAdjust="spacingAndGlyphs">200</text>
<text x="331.4" y="982.5" font-size="14.1" fill="#fff" text-anchor="middle" font-weight="bold" textLength="26.5" lengthAdjust="spacingAndGlyphs">100</text>
<text x="331.4" y="1013.25" font-size="14.1" fill="#fff" text-anchor="middle" font-weight="bold" textLength="9" lengthAdjust="spacingAndGlyphs">0</text>
<text x="295.1" y="873.8" font-size="12.21" fill="#fff" text-anchor="middle" font-weight="bold" textLength="8.5" lengthAdjust="spacingAndGlyphs">A</text>
<text x="331.4" y="873.8" font-size="12.21" fill="#fff" text-anchor="middle" font-weight="bold" textLength="27" lengthAdjust="spacingAndGlyphs">PSIA</text>
<text x="368.2" y="873.8" font-size="12.21" fill="#fff" text-anchor="middle" font-weight="bold" textLength="8" lengthAdjust="spacingAndGlyphs">B</text>
<text x="331.4" y="1039.4" font-size="15.99" fill="#b5c1b1" text-anchor="middle" font-weight="bold" textLength="29" lengthAdjust="spacingAndGlyphs">X10</text>
<polygon points="300.5,916.5 292,911.5 292,921.5" fill="#6f6e73" stroke="none" stroke-width="0"/><line x1="292.5" y1="916.5" x2="289" y2="916.5" stroke="#6f6e73" stroke-width="2.5"/>
<polygon points="362.9,916.5 371.4,911.5 371.4,921.5" fill="#6f6e73" stroke="none" stroke-width="0"/><line x1="370.9" y1="916.5" x2="374.4" y2="916.5" stroke="#6f6e73" stroke-width="2.5"/>
<path d="M596,841.5 A8,8 0 0 1 604,833.5 L805.7,833.5 Q808.7,833.5 808.7,830.5 L808.7,812.3 L830.7,812.3 L830.7,830.5 Q830.7,833.5 833.7,833.5 L890,833.5 A8,8 0 0 1 898,841.5 L898,1071.5 A8,8 0 0 1 890,1079.5 L604,1079.5 A8,8 0 0 1 596,1071.5 Z" fill="none" stroke="#8a8a8c" stroke-width="2.4"/>
<rect x="812.2" y="816.1" width="15" height="14.2" fill="#d56c6f" stroke="#a9a9a9" stroke-width="1.2"/>
<rect x="608.7" y="846" width="132" height="221.3" rx="5" fill="#fff" stroke="#8a8a8c" stroke-width="2.4"/>
<rect x="619.6" y="859" width="110.4" height="195" rx="3.5" fill="#6f6e73"/>
<rect x="632.4" y="879.7" width="11.6" height="166.3" fill="#fff"/>
<rect x="705.7" y="879.7" width="11.3" height="166.3" fill="#fff"/>
<path d="M644,885.7H655M644,890.81H648.7M644,895.92H648.7M644,901.03H648.7M644,906.14H648.7M644,911.25H655M644,916.36H648.7M644,921.47H648.7M644,926.58H648.7M644,931.69H648.7M644,936.8H655M644,941.91H648.7M644,947.02H648.7M644,952.13H648.7M644,957.24H648.7M644,962.35H655M644,967.46H648.7M644,972.57H648.7M644,977.68H648.7M644,982.79H648.7M644,987.9H655M644,993.01H648.7M644,998.12H648.7M644,1003.23H648.7M644,1008.34H648.7M644,1013.45H655M644,1018.56H648.7M644,1023.67H648.7M644,1028.78H648.7M644,1033.89H648.7M644,1039H655" fill="none" stroke="#e4e4e4" stroke-width="1.9"/>
<path d="M705.7,885.7H694.7M705.7,890.81H701M705.7,895.92H701M705.7,901.03H701M705.7,906.14H701M705.7,911.25H694.7M705.7,916.36H701M705.7,921.47H701M705.7,926.58H701M705.7,931.69H701M705.7,936.8H694.7M705.7,941.91H701M705.7,947.02H701M705.7,952.13H701M705.7,957.24H701M705.7,962.35H694.7M705.7,967.46H701M705.7,972.57H701M705.7,977.68H701M705.7,982.79H701M705.7,987.9H694.7M705.7,993.01H701M705.7,998.12H701M705.7,1003.23H701M705.7,1008.34H701M705.7,1013.45H694.7M705.7,1018.56H701M705.7,1023.67H701M705.7,1028.78H701M705.7,1033.89H701M705.7,1039H694.7" fill="none" stroke="#e4e4e4" stroke-width="1.9"/>
<text x="674.7" y="890.7" font-size="14.53" fill="#fff" text-anchor="middle" font-weight="bold" textLength="24" lengthAdjust="spacingAndGlyphs">100</text>
<text x="674.7" y="916.25" font-size="14.53" fill="#fff" text-anchor="middle" font-weight="bold" textLength="16.5" lengthAdjust="spacingAndGlyphs">90</text>
<text x="674.7" y="941.8" font-size="14.53" fill="#fff" text-anchor="middle" font-weight="bold" textLength="16.5" lengthAdjust="spacingAndGlyphs">80</text>
<text x="674.7" y="967.35" font-size="14.53" fill="#fff" text-anchor="middle" font-weight="bold" textLength="16.5" lengthAdjust="spacingAndGlyphs">70</text>
<text x="674.7" y="992.9" font-size="14.53" fill="#fff" text-anchor="middle" font-weight="bold" textLength="16.5" lengthAdjust="spacingAndGlyphs">60</text>
<text x="674.7" y="1018.45" font-size="14.53" fill="#fff" text-anchor="middle" font-weight="bold" textLength="16.5" lengthAdjust="spacingAndGlyphs">50</text>
<text x="674.7" y="1044" font-size="14.53" fill="#fff" text-anchor="middle" font-weight="bold" textLength="16.5" lengthAdjust="spacingAndGlyphs">40</text>
<text x="638.85" y="874" font-size="11.63" fill="#fff" text-anchor="middle" font-weight="bold" textLength="26.3" lengthAdjust="spacingAndGlyphs">SUIT</text>
<text x="674.8" y="874" font-size="11.63" fill="#fff" text-anchor="middle" font-weight="bold" textLength="10.4" lengthAdjust="spacingAndGlyphs">°F</text>
<text x="710.45" y="874" font-size="11.63" fill="#fff" text-anchor="middle" font-weight="bold" textLength="37.7" lengthAdjust="spacingAndGlyphs">CABIN</text>
<polygon points="643.5,952.4 635,947.4 635,957.4" fill="#6f6e73" stroke="none" stroke-width="0"/><line x1="635.5" y1="952.4" x2="632" y2="952.4" stroke="#6f6e73" stroke-width="2.5"/>
<polygon points="706.2,952.4 714.7,947.4 714.7,957.4" fill="#6f6e73" stroke="none" stroke-width="0"/><line x1="714.2" y1="952.4" x2="717.7" y2="952.4" stroke="#6f6e73" stroke-width="2.5"/>
<rect x="753.3" y="846" width="132" height="221.3" rx="5" fill="#fff" stroke="#8a8a8c" stroke-width="2.4"/>
<rect x="764.3" y="859" width="110.1" height="195" rx="3.5" fill="#6f6e73"/>
<rect x="777" y="879.7" width="11.3" height="165.6" fill="#fff"/>
<rect x="850" y="879.7" width="11.6" height="165.6" fill="#fff"/>
<rect x="783" y="962" width="5.3" height="24" fill="#d3e2a6"/>
<polygon points="850,957 855,957 855,967 850,967" fill="#d3e2a6" stroke="none" stroke-width="0"/>
<path d="M788.3,886H799.3M788.3,893.66H793.3M788.3,901.33H799.3M788.3,909H793.3M788.3,916.66H799.3M788.3,924.33H793.3M788.3,931.99H799.3M788.3,939.65H793.3M788.3,947.32H799.3M788.3,954.99H793.3M788.3,962.65H799.3M788.3,970.32H793.3M788.3,977.98H799.3M788.3,985.64H793.3M788.3,993.31H799.3M788.3,1000.98H793.3M788.3,1008.64H799.3M788.3,1016.31H793.3M788.3,1023.97H799.3M788.3,1031.63H793.3M788.3,1039.3H799.3" fill="none" stroke="#e4e4e4" stroke-width="1.9"/>
<path d="M850,886H839M850,893.66H845M850,901.33H839M850,909H845M850,916.66H839M850,924.33H845M850,931.99H839M850,939.65H845M850,947.32H839M850,954.99H845M850,962.65H839M850,970.32H845M850,977.98H839M850,985.64H845M850,993.31H839M850,1000.98H845M850,1008.64H839M850,1016.31H845M850,1023.97H839M850,1031.63H845M850,1039.3H839" fill="none" stroke="#e4e4e4" stroke-width="1.9"/>
<text x="819.3" y="891" font-size="14.53" fill="#fff" text-anchor="middle" font-weight="bold" textLength="15.5" lengthAdjust="spacingAndGlyphs">10</text>
<text x="819.3" y="921.66" font-size="14.53" fill="#fff" text-anchor="middle" font-weight="bold" textLength="8.5" lengthAdjust="spacingAndGlyphs">8</text>
<text x="819.3" y="952.32" font-size="14.53" fill="#fff" text-anchor="middle" font-weight="bold" textLength="8.5" lengthAdjust="spacingAndGlyphs">6</text>
<text x="819.3" y="982.98" font-size="14.53" fill="#fff" text-anchor="middle" font-weight="bold" textLength="8.5" lengthAdjust="spacingAndGlyphs">4</text>
<text x="819.3" y="1013.64" font-size="14.53" fill="#fff" text-anchor="middle" font-weight="bold" textLength="8.5" lengthAdjust="spacingAndGlyphs">2</text>
<text x="819.3" y="1044.3" font-size="14.53" fill="#fff" text-anchor="middle" font-weight="bold" textLength="8.5" lengthAdjust="spacingAndGlyphs">0</text>
<text x="783.55" y="874" font-size="11.63" fill="#fff" text-anchor="middle" font-weight="bold" textLength="26.3" lengthAdjust="spacingAndGlyphs">SUIT</text>
<text x="819.5" y="874" font-size="11.63" fill="#fff" text-anchor="middle" font-weight="bold" textLength="27" lengthAdjust="spacingAndGlyphs">PSIA</text>
<text x="854.8" y="874" font-size="11.63" fill="#fff" text-anchor="middle" font-weight="bold" textLength="37" lengthAdjust="spacingAndGlyphs">CABIN</text>
<polygon points="787.8,962.4 779.3,957.4 779.3,967.4" fill="#6f6e73" stroke="none" stroke-width="0"/><line x1="779.8" y1="962.4" x2="776.3" y2="962.4" stroke="#6f6e73" stroke-width="2.5"/>
<polygon points="850.5,962.4 859,957.4 859,967.4" fill="#6f6e73" stroke="none" stroke-width="0"/><line x1="858.5" y1="962.4" x2="862" y2="962.4" stroke="#6f6e73" stroke-width="2.5"/>
<path d="M959.5,841.5 A8,8 0 0 1 967.5,833.5 L1064,833.5 A8,8 0 0 1 1072,841.5 L1072,1072 A8,8 0 0 1 1064,1080 L967.5,1080 A8,8 0 0 1 959.5,1072 Z" fill="none" stroke="#8a8a8c" stroke-width="2.4"/>
<rect x="972.5" y="846.2" width="86.8" height="221" rx="5" fill="#fff" stroke="#8a8a8c" stroke-width="2.4"/>
<rect x="983" y="859.2" width="65.7" height="194.6" rx="3.5" fill="#6f6e73"/>
<rect x="1027.8" y="879.8" width="11" height="165.5" fill="#fff"/>
<rect x="1027.8" y="969.8" width="5.1" height="69.9" fill="#d3e2a6"/>
<path d="M1016.2,885.8H1027.8M1016.2,906.2H1027.8M1016.2,929.3H1027.8M1016.2,954.7H1027.8M1016.2,982H1027.8M1016.2,1039.7H1027.8M1022.6,959.9H1027.8M1022.6,965.6H1027.8M1022.6,970.5H1027.8M1022.6,975.8H1027.8M1022.6,988.8H1027.8M1022.6,996.6H1027.8M1022.6,1005.5H1027.8M1022.6,1018.5H1027.8" fill="none" stroke="#e4e4e4" stroke-width="1.9"/>
<text x="1012.7" y="890.65" font-size="14.1" fill="#fff" text-anchor="end" font-weight="bold" textLength="17" lengthAdjust="spacingAndGlyphs">30</text>
<text x="1012.7" y="911.05" font-size="14.1" fill="#fff" text-anchor="end" font-weight="bold" textLength="17" lengthAdjust="spacingAndGlyphs">20</text>
<text x="1012.7" y="934.15" font-size="14.1" fill="#fff" text-anchor="end" font-weight="bold" textLength="17" lengthAdjust="spacingAndGlyphs">15</text>
<text x="1012.7" y="959.55" font-size="14.1" fill="#fff" text-anchor="end" font-weight="bold" textLength="17" lengthAdjust="spacingAndGlyphs">10</text>
<text x="1012.7" y="986.85" font-size="14.1" fill="#fff" text-anchor="end" font-weight="bold" textLength="8.5" lengthAdjust="spacingAndGlyphs">5</text>
<text x="1012.7" y="1044.55" font-size="14.1" fill="#fff" text-anchor="end" font-weight="bold" textLength="8.5" lengthAdjust="spacingAndGlyphs">0</text>
<text x="998.4" y="874.2" font-size="11.63" fill="#fff" text-anchor="middle" font-weight="bold" textLength="21.6" lengthAdjust="spacingAndGlyphs">MM</text>
<text x="1033.05" y="874.2" font-size="11.63" fill="#fff" text-anchor="middle" font-weight="bold" textLength="16.7" lengthAdjust="spacingAndGlyphs">Hg</text>
<polyline points="1037.3,1033.7 1037.3,1045.7" fill="none" stroke="#6f6e73" stroke-width="2.2"/><polyline points="1038.3,1033.7 1034.8,1033.7" fill="none" stroke="#6f6e73" stroke-width="2"/><polyline points="1038.3,1045.7 1034.8,1045.7" fill="none" stroke="#6f6e73" stroke-width="2"/><polygon points="1027.3,1039.7 1034.8,1034.7 1034.8,1044.7" fill="#6f6e73" stroke="none" stroke-width="0"/>
<path d="M596,1140.3 A8,8 0 0 1 604,1132.3 L660.7,1132.3 Q663.7,1132.3 663.7,1129.3 L663.7,1111.6 L685.5,1111.6 L685.5,1129.3 Q685.5,1132.3 688.5,1132.3 L805,1132.3 Q808,1132.3 808,1129.3 L808,1111.6 L830.7,1111.6 L830.7,1129.3 Q830.7,1132.3 833.7,1132.3 L878,1132.3 Q884,1132.3 887,1127 L891,1118 Q894,1112.6 901,1112.6 L1023.8,1112.6 Q1026.8,1112.6 1026.8,1109.6 L1026.8,1092 L1048,1092 L1048,1109.6 Q1048,1112.6 1051,1112.6 L1166.5,1112.6 A18,18 0 0 1 1184.5,1130.6 L1184.5,1379.3 A18,18 0 0 1 1166.5,1397.3 L906,1397.3 Q900,1397.3 897,1392 L891,1384 Q888,1379.5 882,1379.5 L604,1379.5 A8,8 0 0 1 596,1371.5 Z" fill="none" stroke="#8a8a8c" stroke-width="2.4"/>
<rect x="667.2" y="1115.4" width="14.8" height="14.2" fill="#d56c6f" stroke="#a9a9a9" stroke-width="1.2"/>
<rect x="811.5" y="1115.4" width="15.7" height="14.2" fill="#d56c6f" stroke="#a9a9a9" stroke-width="1.2"/>
<rect x="1030.3" y="1095.8" width="14.2" height="14.2" fill="#d56c6f" stroke="#a9a9a9" stroke-width="1.2"/>
<rect x="609" y="1145.2" width="131.7" height="221.2" rx="5" fill="#fff" stroke="#8a8a8c" stroke-width="2.4"/>
<rect x="619.7" y="1158.3" width="110.1" height="195.2" rx="3.5" fill="#6f6e73"/>
<rect x="632.5" y="1178.5" width="11.5" height="166.5" fill="#fff"/>
<rect x="705.5" y="1178.5" width="11.5" height="166.5" fill="#fff"/>
<rect x="638.6" y="1243" width="5.4" height="31.5" fill="#d3e2a6"/>
<rect x="705.5" y="1252" width="5.5" height="57.8" fill="#d3e2a6"/>
<path d="M644,1185.3H655M644,1194.86H649M644,1204.41H655M644,1213.97H649M644,1223.52H655M644,1233.08H649M644,1242.64H655M644,1252.19H649M644,1261.75H655M644,1271.31H649M644,1280.86H655M644,1290.42H649M644,1299.97H655M644,1309.53H649M644,1319.09H655M644,1328.64H649M644,1338.2H655" fill="none" stroke="#e4e4e4" stroke-width="1.9"/>
<path d="M705.5,1185.3H694.5M705.5,1194.86H700.5M705.5,1204.41H694.5M705.5,1213.97H700.5M705.5,1223.52H694.5M705.5,1233.08H700.5M705.5,1242.64H694.5M705.5,1252.19H700.5M705.5,1261.75H694.5M705.5,1271.31H700.5M705.5,1280.86H694.5M705.5,1290.42H700.5M705.5,1299.97H694.5M705.5,1309.53H700.5M705.5,1319.09H694.5M705.5,1328.64H700.5M705.5,1338.2H694.5" fill="none" stroke="#e4e4e4" stroke-width="1.9"/>
<text x="674.6" y="1190.3" font-size="14.53" fill="#fff" text-anchor="middle" font-weight="bold" textLength="16.5" lengthAdjust="spacingAndGlyphs">80</text>
<text x="674.6" y="1228.52" font-size="14.53" fill="#fff" text-anchor="middle" font-weight="bold" textLength="16.5" lengthAdjust="spacingAndGlyphs">60</text>
<text x="674.6" y="1266.75" font-size="14.53" fill="#fff" text-anchor="middle" font-weight="bold" textLength="16.5" lengthAdjust="spacingAndGlyphs">40</text>
<text x="674.6" y="1304.97" font-size="14.53" fill="#fff" text-anchor="middle" font-weight="bold" textLength="16.5" lengthAdjust="spacingAndGlyphs">20</text>
<text x="674.6" y="1343.2" font-size="14.53" fill="#fff" text-anchor="middle" font-weight="bold" textLength="8.5" lengthAdjust="spacingAndGlyphs">0</text>
<text x="638.75" y="1174.3" font-size="11.63" fill="#fff" text-anchor="middle" font-weight="bold" textLength="13.5" lengthAdjust="spacingAndGlyphs">°F</text>
<text x="711.75" y="1174.3" font-size="11.63" fill="#fff" text-anchor="middle" font-weight="bold" textLength="27.5" lengthAdjust="spacingAndGlyphs">PSIA</text>
<polygon points="643.5,1194.8 635,1189.8 635,1199.8" fill="#6f6e73" stroke="none" stroke-width="0"/><line x1="635.5" y1="1194.8" x2="632" y2="1194.8" stroke="#6f6e73" stroke-width="2.5"/>
<polygon points="706,1286.2 714.5,1281.2 714.5,1291.2" fill="#6f6e73" stroke="none" stroke-width="0"/><line x1="714" y1="1286.2" x2="717.5" y2="1286.2" stroke="#6f6e73" stroke-width="2.5"/>
<rect x="753" y="1145.2" width="133" height="221.2" rx="5" fill="#fff" stroke="#8a8a8c" stroke-width="2.4"/>
<rect x="764.6" y="1158.3" width="109.9" height="195.2" rx="3.5" fill="#6f6e73"/>
<rect x="777.2" y="1178.5" width="10.8" height="166.5" fill="#fff"/>
<rect x="850" y="1178.5" width="11.6" height="166.5" fill="#fff"/>
<path d="M788,1185.3H799M788,1192.94H793M788,1200.59H799M788,1208.23H793M788,1215.88H799M788,1223.52H793M788,1231.17H799M788,1238.82H793M788,1246.46H799M788,1254.11H793M788,1261.75H799M788,1269.39H793M788,1277.04H799M788,1284.68H793M788,1292.33H799M788,1299.97H793M788,1307.62H799M788,1315.26H793M788,1322.91H799M788,1330.55H793M788,1338.2H799" fill="none" stroke="#e4e4e4" stroke-width="1.9"/>
<path d="M850,1185.3H839M850,1192.94H845M850,1200.59H839M850,1208.23H845M850,1215.88H839M850,1223.52H845M850,1231.17H839M850,1238.82H845M850,1246.46H839M850,1254.11H845M850,1261.75H839M850,1269.39H845M850,1277.04H839M850,1284.68H845M850,1292.33H839M850,1299.97H845M850,1307.62H839M850,1315.26H845M850,1322.91H839M850,1330.55H845M850,1338.2H839" fill="none" stroke="#e4e4e4" stroke-width="1.9"/>
<text x="819" y="1190.3" font-size="14.53" fill="#fff" text-anchor="middle" font-weight="bold" textLength="24" lengthAdjust="spacingAndGlyphs">100</text>
<text x="819" y="1220.88" font-size="14.53" fill="#fff" text-anchor="middle" font-weight="bold" textLength="16.5" lengthAdjust="spacingAndGlyphs">80</text>
<text x="819" y="1251.46" font-size="14.53" fill="#fff" text-anchor="middle" font-weight="bold" textLength="16.5" lengthAdjust="spacingAndGlyphs">60</text>
<text x="819" y="1282.04" font-size="14.53" fill="#fff" text-anchor="middle" font-weight="bold" textLength="16.5" lengthAdjust="spacingAndGlyphs">40</text>
<text x="819" y="1312.62" font-size="14.53" fill="#fff" text-anchor="middle" font-weight="bold" textLength="16.5" lengthAdjust="spacingAndGlyphs">20</text>
<text x="819" y="1343.2" font-size="14.53" fill="#fff" text-anchor="middle" font-weight="bold" textLength="8.5" lengthAdjust="spacingAndGlyphs">0</text>
<text x="780" y="1174.3" font-size="11.63" fill="#fff" text-anchor="middle" font-weight="bold" textLength="10" lengthAdjust="spacingAndGlyphs">O</text>
<text x="785.5" y="1177" font-size="8.5" fill="#fff" font-weight="bold">2</text>
<text x="819" y="1174.3" font-size="11.63" fill="#fff" text-anchor="middle" font-weight="bold" textLength="11" lengthAdjust="spacingAndGlyphs">%</text>
<text x="847" y="1174.3" font-size="11.63" fill="#fff" text-anchor="middle" font-weight="bold" textLength="8" lengthAdjust="spacingAndGlyphs">H</text>
<text x="851.5" y="1177" font-size="8.5" fill="#fff" font-weight="bold">2</text>
<text x="861.25" y="1174.3" font-size="11.63" fill="#fff" text-anchor="middle" font-weight="bold" textLength="10.5" lengthAdjust="spacingAndGlyphs">O</text>
<polyline points="778.7,1179.3 778.7,1191.3" fill="none" stroke="#6f6e73" stroke-width="2.2"/><polyline points="777.7,1179.3 781.2,1179.3" fill="none" stroke="#6f6e73" stroke-width="2"/><polyline points="777.7,1191.3 781.2,1191.3" fill="none" stroke="#6f6e73" stroke-width="2"/><polygon points="788.5,1185.3 781.2,1180.3 781.2,1190.3" fill="#6f6e73" stroke="none" stroke-width="0"/>
<polyline points="860.1,1179.3 860.1,1191.3" fill="none" stroke="#6f6e73" stroke-width="2.2"/><polyline points="861.1,1179.3 857.6,1179.3" fill="none" stroke="#6f6e73" stroke-width="2"/><polyline points="861.1,1191.3 857.6,1191.3" fill="none" stroke="#6f6e73" stroke-width="2"/><polygon points="849.5,1185.3 857.6,1180.3 857.6,1190.3" fill="#6f6e73" stroke="none" stroke-width="0"/>
<text x="674.75" y="1102.4" font-size="16.57" fill="#858585" text-anchor="middle" font-weight="bold" textLength="61.5" lengthAdjust="spacingAndGlyphs">GLYCOL</text>
<text x="819.3" y="1102.4" font-size="16.57" fill="#858585" text-anchor="middle" font-weight="bold" textLength="82.6" lengthAdjust="spacingAndGlyphs">QUANTITY</text>
<rect x="903.5" y="1126" width="268" height="259.9" rx="5" fill="#fff" stroke="#8a8a8c" stroke-width="2.4"/>
<rect x="912.6" y="1134.6" width="250.2" height="241.9" rx="3.5" fill="#6f6e73"/>
<rect x="958" y="1143.5" width="194" height="184.7" fill="#fff"/>
<line x1="1055" y1="1146" x2="1055" y2="1326" stroke="#c4c4c4" stroke-width="1.1"/>
<line x1="961" y1="1235.8" x2="1149" y2="1235.8" stroke="#c4c4c4" stroke-width="1.1"/>
<path d="M1010.3,1146.4 Q974.8,1234.4 1013.8,1325.9" fill="none" stroke="#6a6a6e" stroke-width="2"/>
<path d="M960.9,1278.1 Q1040,1307.8 1148.6,1273.6" fill="none" stroke="#6a6a6e" stroke-width="2"/>
<path d="M958,1151.8H946.5M958,1156.03H954M958,1160.26H954M958,1164.49H954M958,1168.72H954M958,1172.95H951M958,1177.18H954M958,1181.41H954M958,1185.64H954M958,1189.87H954M958,1194.1H951M958,1198.33H954M958,1202.56H954M958,1206.79H954M958,1211.02H954M958,1215.25H951M958,1219.48H954M958,1223.71H954M958,1227.94H954M958,1232.17H954M958,1236.4H951M958,1240.63H954M958,1244.86H954M958,1249.09H954M958,1253.32H954M958,1257.55H951M958,1261.78H954M958,1266.01H954M958,1270.24H954M958,1274.47H954M958,1278.7H951M958,1282.93H954M958,1287.16H954M958,1291.39H954M958,1295.62H954M958,1299.85H951M958,1304.08H954M958,1308.31H954M958,1312.54H954M958,1316.77H954M958,1321H946.5M969.8,1328.2V1337.7M974.05,1328.2V1332.7M978.29,1328.2V1332.7M982.54,1328.2V1332.7M986.79,1328.2V1332.7M991.04,1328.2V1335.2M995.28,1328.2V1332.7M999.53,1328.2V1332.7M1003.78,1328.2V1332.7M1008.03,1328.2V1332.7M1012.27,1328.2V1335.2M1016.52,1328.2V1332.7M1020.77,1328.2V1332.7M1025.02,1328.2V1332.7M1029.26,1328.2V1332.7M1033.51,1328.2V1335.2M1037.76,1328.2V1332.7M1042.01,1328.2V1332.7M1046.26,1328.2V1332.7M1050.5,1328.2V1332.7M1054.75,1328.2V1335.2M1059,1328.2V1332.7M1063.24,1328.2V1332.7M1067.49,1328.2V1332.7M1071.74,1328.2V1332.7M1075.99,1328.2V1335.2M1080.24,1328.2V1332.7M1084.48,1328.2V1332.7M1088.73,1328.2V1332.7M1092.98,1328.2V1332.7M1097.22,1328.2V1335.2M1101.47,1328.2V1332.7M1105.72,1328.2V1332.7M1109.97,1328.2V1332.7M1114.22,1328.2V1332.7M1118.46,1328.2V1335.2M1122.71,1328.2V1332.7M1126.96,1328.2V1332.7M1131.2,1328.2V1332.7M1135.45,1328.2V1332.7M1139.7,1328.2V1337.7" fill="none" stroke="#ececec" stroke-width="1.3"/>
<text x="944.5" y="1156.8" font-size="13.8" fill="#fff" text-anchor="end" textLength="11.8" lengthAdjust="spacingAndGlyphs">20</text>
<text x="944.5" y="1177.95" font-size="13.8" fill="#fff" text-anchor="end" textLength="11.8" lengthAdjust="spacingAndGlyphs">15</text>
<text x="944.5" y="1199.1" font-size="13.8" fill="#fff" text-anchor="end" textLength="11.8" lengthAdjust="spacingAndGlyphs">10</text>
<text x="944.5" y="1220.25" font-size="13.8" fill="#fff" text-anchor="end" textLength="6" lengthAdjust="spacingAndGlyphs">5</text>
<text x="944.5" y="1241.4" font-size="13.8" fill="#fff" text-anchor="end" textLength="6" lengthAdjust="spacingAndGlyphs">0</text>
<text x="944.5" y="1262.55" font-size="13.8" fill="#fff" text-anchor="end" textLength="6" lengthAdjust="spacingAndGlyphs">5</text>
<text x="944.5" y="1283.7" font-size="13.8" fill="#fff" text-anchor="end" textLength="11.8" lengthAdjust="spacingAndGlyphs">10</text>
<text x="944.5" y="1304.85" font-size="13.8" fill="#fff" text-anchor="end" textLength="11.8" lengthAdjust="spacingAndGlyphs">15</text>
<text x="944.5" y="1326" font-size="13.8" fill="#fff" text-anchor="end" textLength="11.8" lengthAdjust="spacingAndGlyphs">20</text>
<text x="969.8" y="1353" font-size="14.8" fill="#fff" text-anchor="middle" textLength="11.8" lengthAdjust="spacingAndGlyphs">20</text>
<text x="991.04" y="1353" font-size="14.8" fill="#fff" text-anchor="middle" textLength="11.8" lengthAdjust="spacingAndGlyphs">15</text>
<text x="1012.27" y="1353" font-size="14.8" fill="#fff" text-anchor="middle" textLength="11.8" lengthAdjust="spacingAndGlyphs">10</text>
<text x="1033.51" y="1353" font-size="14.8" fill="#fff" text-anchor="middle" textLength="6" lengthAdjust="spacingAndGlyphs">5</text>
<text x="1054.75" y="1353" font-size="14.8" fill="#fff" text-anchor="middle" textLength="6" lengthAdjust="spacingAndGlyphs">0</text>
<text x="1075.99" y="1353" font-size="14.8" fill="#fff" text-anchor="middle" textLength="6" lengthAdjust="spacingAndGlyphs">5</text>
<text x="1097.22" y="1353" font-size="14.8" fill="#fff" text-anchor="middle" textLength="11.8" lengthAdjust="spacingAndGlyphs">10</text>
<text x="1118.46" y="1353" font-size="14.8" fill="#fff" text-anchor="middle" textLength="11.8" lengthAdjust="spacingAndGlyphs">15</text>
<text x="1139.7" y="1353" font-size="14.8" fill="#fff" text-anchor="middle" textLength="11.8" lengthAdjust="spacingAndGlyphs">20</text>
<text x="922.5" y="1154" font-size="13" fill="#a9b4a6" text-anchor="middle" textLength="7.5" lengthAdjust="spacingAndGlyphs">E</text>
<text x="922.5" y="1169.4" font-size="13" fill="#a9b4a6" text-anchor="middle" textLength="7.5" lengthAdjust="spacingAndGlyphs">L</text>
<text x="922.5" y="1183.5" font-size="13" fill="#a9b4a6" text-anchor="middle" textLength="7.5" lengthAdjust="spacingAndGlyphs">E</text>
<text x="922.5" y="1197.6" font-size="13" fill="#a9b4a6" text-anchor="middle" textLength="7.5" lengthAdjust="spacingAndGlyphs">V</text>
<text x="922.5" y="1220" font-size="13" fill="#a9b4a6" text-anchor="middle" textLength="7.5" lengthAdjust="spacingAndGlyphs">R</text>
<text x="922.5" y="1234" font-size="13" fill="#a9b4a6" text-anchor="middle" textLength="7.5" lengthAdjust="spacingAndGlyphs">T</text>
<text x="922.5" y="1255.3" font-size="13" fill="#a9b4a6" text-anchor="middle" textLength="7.5" lengthAdjust="spacingAndGlyphs">F</text>
<text x="922.5" y="1270.6" font-size="13" fill="#a9b4a6" text-anchor="middle" textLength="11" lengthAdjust="spacingAndGlyphs">W</text>
<text x="922.5" y="1285.9" font-size="13" fill="#a9b4a6" text-anchor="middle" textLength="7.5" lengthAdjust="spacingAndGlyphs">D</text>
<text x="922.5" y="1305.9" font-size="13" fill="#a9b4a6" text-anchor="middle" textLength="7.5" lengthAdjust="spacingAndGlyphs">V</text>
<text x="922.5" y="1321.2" font-size="13" fill="#a9b4a6" text-anchor="middle" textLength="7.5" lengthAdjust="spacingAndGlyphs">E</text>
<text x="922.5" y="1336.5" font-size="13" fill="#a9b4a6" text-anchor="middle" textLength="7.5" lengthAdjust="spacingAndGlyphs">L</text>
<text x="968" y="1372.2" font-size="13.7" fill="#a9b4a6" text-anchor="middle" textLength="19" lengthAdjust="spacingAndGlyphs">AZ</text>
<text x="997.8" y="1372.2" font-size="13.7" fill="#a9b4a6" text-anchor="middle" textLength="15.3" lengthAdjust="spacingAndGlyphs">RT</text>
<text x="1028" y="1372.2" font-size="13.7" fill="#a9b4a6" text-anchor="middle" textLength="19" lengthAdjust="spacingAndGlyphs">X.I</text>
<text x="1062" y="1372.2" font-size="13.7" fill="#a9b4a6" text-anchor="middle" textLength="26" lengthAdjust="spacingAndGlyphs">XIO</text>
<text x="1100" y="1372.2" font-size="13.7" fill="#a9b4a6" text-anchor="middle" textLength="22.4" lengthAdjust="spacingAndGlyphs">LAT</text>
<text x="1138" y="1372.2" font-size="13.7" fill="#a9b4a6" text-anchor="middle" textLength="24.7" lengthAdjust="spacingAndGlyphs">VEL</text>
<path d="M93,1131 L93,1126.4 A8,8 0 0 1 101,1118.4 L168.5,1118.4 M253.5,1118.4 L323,1118.4 A8,8 0 0 1 331,1126.4 A8,8 0 0 1 339,1118.4 L408,1118.4 M492,1118.4 L562,1118.4 A8,8 0 0 1 570,1126.4 L570,1131" fill="none" stroke="#8a8a8c" stroke-width="2.6" stroke-linecap="round"/>
<text x="212.5" y="1123" font-size="15.41" fill="#858585" text-anchor="middle" font-weight="bold" textLength="77" lengthAdjust="spacingAndGlyphs">SYSTEM A</text>
<text x="450.4" y="1123" font-size="15.41" fill="#858585" text-anchor="middle" font-weight="bold" textLength="76.8" lengthAdjust="spacingAndGlyphs">SYSTEM B</text>
<text x="153" y="1156" font-size="15.12" fill="#858585" text-anchor="middle" font-weight="bold" textLength="74" lengthAdjust="spacingAndGlyphs">ASC FUEL</text>
<text x="153" y="1241" font-size="12.5" fill="#858585" text-anchor="middle" font-weight="bold" textLength="71" lengthAdjust="spacingAndGlyphs">ASC FEED 1</text>
<rect x="131.5" y="1164.5" width="43.1" height="43" rx="3.5" fill="#efefef" stroke="#8a8a8c" stroke-width="2.6"/><clipPath id="hc1"><rect x="140.1" y="1171.1" width="25.7" height="29.9" rx="2.5"/></clipPath><rect x="140.1" y="1171.1" width="25.7" height="29.9" rx="2.5" fill="#f8f9ea"/><g clip-path="url(#hc1)"><path d="M146.1,1166.1 L106.2,1206 M160.1,1166.1 L120.2,1206 M174.1,1166.1 L134.2,1206 M188.1,1166.1 L148.2,1206 M202.1,1166.1 L162.2,1206 " fill="none" stroke="#707075" stroke-width="2.7"/></g>
<polygon points="127.45,1275.5 140.22,1253.55 165.78,1253.55 178.55,1275.5 165.78,1297.45 140.22,1297.45" fill="#e4e4e4" stroke="#8a8a8c" stroke-width="2.6" stroke-linejoin="round"/><circle cx="153" cy="1275.5" r="16.75" fill="#a9a9a9" stroke="#8a8a8c" stroke-width="2.7"/><circle cx="153" cy="1275.5" r="8.2" fill="#f6f6f6" stroke="#8a8a8c" stroke-width="2.5"/><circle cx="153" cy="1275.5" r="3.85" fill="#d4e6b8"/>
<text x="153" y="1318.6" font-size="12.5" fill="#858585" text-anchor="middle" font-weight="bold" textLength="39.6" lengthAdjust="spacingAndGlyphs">CLOSE</text>
<text x="272" y="1156" font-size="15.12" fill="#858585" text-anchor="middle" font-weight="bold" textLength="77.6" lengthAdjust="spacingAndGlyphs">ASC OXID</text>
<text x="272" y="1241" font-size="12.5" fill="#858585" text-anchor="middle" font-weight="bold" textLength="73" lengthAdjust="spacingAndGlyphs">ASC FEED 2</text>
<rect x="250.5" y="1164.5" width="43.1" height="43" rx="3.5" fill="#efefef" stroke="#8a8a8c" stroke-width="2.6"/><clipPath id="hc2"><rect x="259.1" y="1171.1" width="25.7" height="29.9" rx="2.5"/></clipPath><rect x="259.1" y="1171.1" width="25.7" height="29.9" rx="2.5" fill="#f8f9ea"/><g clip-path="url(#hc2)"><path d="M265.1,1166.1 L225.2,1206 M279.1,1166.1 L239.2,1206 M293.1,1166.1 L253.2,1206 M307.1,1166.1 L267.2,1206 M321.1,1166.1 L281.2,1206 " fill="none" stroke="#707075" stroke-width="2.7"/></g>
<polygon points="246.45,1275.5 259.23,1253.55 284.77,1253.55 297.55,1275.5 284.77,1297.45 259.23,1297.45" fill="#e4e4e4" stroke="#8a8a8c" stroke-width="2.6" stroke-linejoin="round"/><circle cx="272" cy="1275.5" r="16.75" fill="#a9a9a9" stroke="#8a8a8c" stroke-width="2.7"/><circle cx="272" cy="1275.5" r="8.2" fill="#f6f6f6" stroke="#8a8a8c" stroke-width="2.5"/><circle cx="272" cy="1275.5" r="3.85" fill="#d4e6b8"/>
<text x="272" y="1318.6" font-size="12.5" fill="#858585" text-anchor="middle" font-weight="bold" textLength="39.6" lengthAdjust="spacingAndGlyphs">CLOSE</text>
<text x="391" y="1156" font-size="15.12" fill="#858585" text-anchor="middle" font-weight="bold" textLength="74" lengthAdjust="spacingAndGlyphs">ASC FUEL</text>
<text x="391" y="1241" font-size="12.5" fill="#858585" text-anchor="middle" font-weight="bold" textLength="71" lengthAdjust="spacingAndGlyphs">ASC FEED 1</text>
<rect x="369.5" y="1164.5" width="43.1" height="43" rx="3.5" fill="#efefef" stroke="#8a8a8c" stroke-width="2.6"/><clipPath id="hc3"><rect x="378.1" y="1171.1" width="25.7" height="29.9" rx="2.5"/></clipPath><rect x="378.1" y="1171.1" width="25.7" height="29.9" rx="2.5" fill="#f8f9ea"/><g clip-path="url(#hc3)"><path d="M384.1,1166.1 L344.2,1206 M398.1,1166.1 L358.2,1206 M412.1,1166.1 L372.2,1206 M426.1,1166.1 L386.2,1206 M440.1,1166.1 L400.2,1206 " fill="none" stroke="#707075" stroke-width="2.7"/></g>
<polygon points="365.45,1275.5 378.23,1253.55 403.77,1253.55 416.55,1275.5 403.77,1297.45 378.23,1297.45" fill="#e4e4e4" stroke="#8a8a8c" stroke-width="2.6" stroke-linejoin="round"/><circle cx="391" cy="1275.5" r="16.75" fill="#a9a9a9" stroke="#8a8a8c" stroke-width="2.7"/><circle cx="391" cy="1275.5" r="8.2" fill="#f6f6f6" stroke="#8a8a8c" stroke-width="2.5"/><circle cx="391" cy="1275.5" r="3.85" fill="#d4e6b8"/>
<text x="391" y="1318.6" font-size="12.5" fill="#858585" text-anchor="middle" font-weight="bold" textLength="39.6" lengthAdjust="spacingAndGlyphs">CLOSE</text>
<text x="510" y="1156" font-size="15.12" fill="#858585" text-anchor="middle" font-weight="bold" textLength="77.6" lengthAdjust="spacingAndGlyphs">ASC OXID</text>
<text x="510" y="1241" font-size="12.5" fill="#858585" text-anchor="middle" font-weight="bold" textLength="73" lengthAdjust="spacingAndGlyphs">ASC FEED 2</text>
<rect x="488.5" y="1164.5" width="43.1" height="43" rx="3.5" fill="#efefef" stroke="#8a8a8c" stroke-width="2.6"/><clipPath id="hc4"><rect x="497.1" y="1171.1" width="25.7" height="29.9" rx="2.5"/></clipPath><rect x="497.1" y="1171.1" width="25.7" height="29.9" rx="2.5" fill="#f8f9ea"/><g clip-path="url(#hc4)"><path d="M503.1,1166.1 L463.2,1206 M517.1,1166.1 L477.2,1206 M531.1,1166.1 L491.2,1206 M545.1,1166.1 L505.2,1206 M559.1,1166.1 L519.2,1206 " fill="none" stroke="#707075" stroke-width="2.7"/></g>
<polygon points="484.45,1275.5 497.23,1253.55 522.77,1253.55 535.55,1275.5 522.77,1297.45 497.23,1297.45" fill="#e4e4e4" stroke="#8a8a8c" stroke-width="2.6" stroke-linejoin="round"/><circle cx="510" cy="1275.5" r="16.75" fill="#a9a9a9" stroke="#8a8a8c" stroke-width="2.7"/><circle cx="510" cy="1275.5" r="8.2" fill="#f6f6f6" stroke="#8a8a8c" stroke-width="2.5"/><circle cx="510" cy="1275.5" r="3.85" fill="#d4e6b8"/>
<text x="510" y="1318.6" font-size="12.5" fill="#858585" text-anchor="middle" font-weight="bold" textLength="39.6" lengthAdjust="spacingAndGlyphs">CLOSE</text>
<path d="M93,1374 L93,1368 A8,8 0 0 1 101,1360 L265,1360 M398,1360 L562,1360 A8,8 0 0 1 570,1368 L570,1374" fill="none" stroke="#8a8a8c" stroke-width="2.6" stroke-linecap="round"/>
<text x="331.5" y="1364.7" font-size="13.66" fill="#858585" text-anchor="middle" font-weight="bold" textLength="125" lengthAdjust="spacingAndGlyphs">THRUSTER PAIR</text>
<text x="153" y="1398.4" font-size="15.7" fill="#858585" text-anchor="middle" font-weight="bold" textLength="62" lengthAdjust="spacingAndGlyphs">QUAD 1</text>
<rect x="131.5" y="1407" width="43.1" height="43" rx="3.5" fill="#efefef" stroke="#8a8a8c" stroke-width="2.6"/><rect x="140.1" y="1413.6" width="25.7" height="30.4" rx="1" fill="#c9c9c9" stroke="#bdbdbd" stroke-width="0.8"/>
<text x="153" y="1488" font-size="12.5" fill="#858585" text-anchor="middle" font-weight="bold" textLength="35.6" lengthAdjust="spacingAndGlyphs">OPEN</text>
<polygon points="127.45,1522 140.22,1500.05 165.78,1500.05 178.55,1522 165.78,1543.95 140.22,1543.95" fill="#e4e4e4" stroke="#8a8a8c" stroke-width="2.6" stroke-linejoin="round"/><circle cx="153" cy="1522" r="16.75" fill="#a9a9a9" stroke="#8a8a8c" stroke-width="2.7"/><circle cx="153" cy="1522" r="8.2" fill="#f6f6f6" stroke="#8a8a8c" stroke-width="2.5"/><circle cx="153" cy="1522" r="3.85" fill="#d4e6b8"/>
<text x="153" y="1565" font-size="13.08" fill="#858585" text-anchor="middle" font-weight="bold" textLength="39.6" lengthAdjust="spacingAndGlyphs">CLOSE</text>
<rect x="96.4" y="1516.1" width="28" height="11.8" rx="1.5" fill="#8a8a8a"/><text x="110.4" y="1526.3" font-size="11.5" fill="#fff" text-anchor="middle" font-weight="bold" textLength="24" lengthAdjust="spacingAndGlyphs">U/F</text>
<text x="272" y="1398.4" font-size="15.7" fill="#858585" text-anchor="middle" font-weight="bold" textLength="62" lengthAdjust="spacingAndGlyphs">QUAD 4</text>
<rect x="250.5" y="1407" width="43.1" height="43" rx="3.5" fill="#efefef" stroke="#8a8a8c" stroke-width="2.6"/><rect x="259.1" y="1413.6" width="25.7" height="30.4" rx="1" fill="#c9c9c9" stroke="#bdbdbd" stroke-width="0.8"/>
<text x="272" y="1488" font-size="12.5" fill="#858585" text-anchor="middle" font-weight="bold" textLength="35.6" lengthAdjust="spacingAndGlyphs">OPEN</text>
<polygon points="246.45,1522 259.23,1500.05 284.77,1500.05 297.55,1522 284.77,1543.95 259.23,1543.95" fill="#e4e4e4" stroke="#8a8a8c" stroke-width="2.6" stroke-linejoin="round"/><circle cx="272" cy="1522" r="16.75" fill="#a9a9a9" stroke="#8a8a8c" stroke-width="2.7"/><circle cx="272" cy="1522" r="8.2" fill="#f6f6f6" stroke="#8a8a8c" stroke-width="2.5"/><circle cx="272" cy="1522" r="3.85" fill="#d4e6b8"/>
<text x="272" y="1565" font-size="13.08" fill="#858585" text-anchor="middle" font-weight="bold" textLength="39.6" lengthAdjust="spacingAndGlyphs">CLOSE</text>
<rect x="215.4" y="1516.1" width="28" height="11.8" rx="1.5" fill="#8a8a8a"/><text x="229.4" y="1526.3" font-size="11.5" fill="#fff" text-anchor="middle" font-weight="bold" textLength="24" lengthAdjust="spacingAndGlyphs">D/R</text>
<text x="391" y="1398.4" font-size="15.7" fill="#858585" text-anchor="middle" font-weight="bold" textLength="62" lengthAdjust="spacingAndGlyphs">QUAD 1</text>
<rect x="369.5" y="1407" width="43.1" height="43" rx="3.5" fill="#efefef" stroke="#8a8a8c" stroke-width="2.6"/><rect x="378.1" y="1413.6" width="25.7" height="30.4" rx="1" fill="#c9c9c9" stroke="#bdbdbd" stroke-width="0.8"/>
<text x="391" y="1488" font-size="12.5" fill="#858585" text-anchor="middle" font-weight="bold" textLength="35.6" lengthAdjust="spacingAndGlyphs">OPEN</text>
<polygon points="365.45,1522 378.23,1500.05 403.77,1500.05 416.55,1522 403.77,1543.95 378.23,1543.95" fill="#e4e4e4" stroke="#8a8a8c" stroke-width="2.6" stroke-linejoin="round"/><circle cx="391" cy="1522" r="16.75" fill="#a9a9a9" stroke="#8a8a8c" stroke-width="2.7"/><circle cx="391" cy="1522" r="8.2" fill="#f6f6f6" stroke="#8a8a8c" stroke-width="2.5"/><circle cx="391" cy="1522" r="3.85" fill="#d4e6b8"/>
<text x="391" y="1565" font-size="13.08" fill="#858585" text-anchor="middle" font-weight="bold" textLength="39.6" lengthAdjust="spacingAndGlyphs">CLOSE</text>
<rect x="420.5" y="1516.1" width="27.5" height="11.8" rx="1.5" fill="#8a8a8a"/><text x="434.25" y="1526.3" font-size="11.5" fill="#fff" text-anchor="middle" font-weight="bold" textLength="23.5" lengthAdjust="spacingAndGlyphs">D/L</text>
<text x="510" y="1398.4" font-size="15.7" fill="#858585" text-anchor="middle" font-weight="bold" textLength="62" lengthAdjust="spacingAndGlyphs">QUAD 4</text>
<rect x="488.5" y="1407" width="43.1" height="43" rx="3.5" fill="#efefef" stroke="#8a8a8c" stroke-width="2.6"/><rect x="497.1" y="1413.6" width="25.7" height="30.4" rx="1" fill="#c9c9c9" stroke="#bdbdbd" stroke-width="0.8"/>
<text x="510" y="1488" font-size="12.5" fill="#858585" text-anchor="middle" font-weight="bold" textLength="35.6" lengthAdjust="spacingAndGlyphs">OPEN</text>
<polygon points="484.45,1522 497.23,1500.05 522.77,1500.05 535.55,1522 522.77,1543.95 497.23,1543.95" fill="#e4e4e4" stroke="#8a8a8c" stroke-width="2.6" stroke-linejoin="round"/><circle cx="510" cy="1522" r="16.75" fill="#a9a9a9" stroke="#8a8a8c" stroke-width="2.7"/><circle cx="510" cy="1522" r="8.2" fill="#f6f6f6" stroke="#8a8a8c" stroke-width="2.5"/><circle cx="510" cy="1522" r="3.85" fill="#d4e6b8"/>
<text x="510" y="1565" font-size="13.08" fill="#858585" text-anchor="middle" font-weight="bold" textLength="39.6" lengthAdjust="spacingAndGlyphs">CLOSE</text>
<rect x="539.5" y="1516.1" width="27.5" height="11.8" rx="1.5" fill="#8a8a8a"/><text x="553.25" y="1526.3" font-size="11.5" fill="#fff" text-anchor="middle" font-weight="bold" textLength="23.5" lengthAdjust="spacingAndGlyphs">U/F</text>
<text x="153" y="1610.9" font-size="15.7" fill="#858585" text-anchor="middle" font-weight="bold" textLength="62" lengthAdjust="spacingAndGlyphs">QUAD 2</text>
<rect x="131.5" y="1619.5" width="43.1" height="43" rx="3.5" fill="#efefef" stroke="#8a8a8c" stroke-width="2.6"/><rect x="140.1" y="1626.1" width="25.7" height="30.4" rx="1" fill="#c9c9c9" stroke="#bdbdbd" stroke-width="0.8"/>
<text x="153" y="1700.5" font-size="12.5" fill="#858585" text-anchor="middle" font-weight="bold" textLength="35.6" lengthAdjust="spacingAndGlyphs">OPEN</text>
<polygon points="127.45,1734.5 140.22,1712.55 165.78,1712.55 178.55,1734.5 165.78,1756.45 140.22,1756.45" fill="#e4e4e4" stroke="#8a8a8c" stroke-width="2.6" stroke-linejoin="round"/><circle cx="153" cy="1734.5" r="16.75" fill="#a9a9a9" stroke="#8a8a8c" stroke-width="2.7"/><circle cx="153" cy="1734.5" r="8.2" fill="#f6f6f6" stroke="#8a8a8c" stroke-width="2.5"/><circle cx="153" cy="1734.5" r="3.85" fill="#d4e6b8"/>
<text x="153" y="1777.5" font-size="13.08" fill="#858585" text-anchor="middle" font-weight="bold" textLength="39.6" lengthAdjust="spacingAndGlyphs">CLOSE</text>
<rect x="96.4" y="1728.6" width="28" height="11.8" rx="1.5" fill="#8a8a8a"/><text x="110.4" y="1738.8" font-size="11.5" fill="#fff" text-anchor="middle" font-weight="bold" textLength="24" lengthAdjust="spacingAndGlyphs">D/A</text>
<text x="272" y="1610.9" font-size="15.7" fill="#858585" text-anchor="middle" font-weight="bold" textLength="62" lengthAdjust="spacingAndGlyphs">QUAD 3</text>
<rect x="250.5" y="1619.5" width="43.1" height="43" rx="3.5" fill="#efefef" stroke="#8a8a8c" stroke-width="2.6"/><rect x="259.1" y="1626.1" width="25.7" height="30.4" rx="1" fill="#c9c9c9" stroke="#bdbdbd" stroke-width="0.8"/>
<text x="272" y="1700.5" font-size="12.5" fill="#858585" text-anchor="middle" font-weight="bold" textLength="35.6" lengthAdjust="spacingAndGlyphs">OPEN</text>
<polygon points="246.45,1734.5 259.23,1712.55 284.77,1712.55 297.55,1734.5 284.77,1756.45 259.23,1756.45" fill="#e4e4e4" stroke="#8a8a8c" stroke-width="2.6" stroke-linejoin="round"/><circle cx="272" cy="1734.5" r="16.75" fill="#a9a9a9" stroke="#8a8a8c" stroke-width="2.7"/><circle cx="272" cy="1734.5" r="8.2" fill="#f6f6f6" stroke="#8a8a8c" stroke-width="2.5"/><circle cx="272" cy="1734.5" r="3.85" fill="#d4e6b8"/>
<text x="272" y="1777.5" font-size="13.08" fill="#858585" text-anchor="middle" font-weight="bold" textLength="39.6" lengthAdjust="spacingAndGlyphs">CLOSE</text>
<rect x="215.4" y="1728.6" width="28" height="11.8" rx="1.5" fill="#8a8a8a"/><text x="229.4" y="1738.8" font-size="11.5" fill="#fff" text-anchor="middle" font-weight="bold" textLength="24" lengthAdjust="spacingAndGlyphs">U/R</text>
<text x="391" y="1610.9" font-size="15.7" fill="#858585" text-anchor="middle" font-weight="bold" textLength="62" lengthAdjust="spacingAndGlyphs">QUAD 2</text>
<rect x="369.5" y="1619.5" width="43.1" height="43" rx="3.5" fill="#efefef" stroke="#8a8a8c" stroke-width="2.6"/><rect x="378.1" y="1626.1" width="25.7" height="30.4" rx="1" fill="#c9c9c9" stroke="#bdbdbd" stroke-width="0.8"/>
<text x="391" y="1700.5" font-size="12.5" fill="#858585" text-anchor="middle" font-weight="bold" textLength="35.6" lengthAdjust="spacingAndGlyphs">OPEN</text>
<polygon points="365.45,1734.5 378.23,1712.55 403.77,1712.55 416.55,1734.5 403.77,1756.45 378.23,1756.45" fill="#e4e4e4" stroke="#8a8a8c" stroke-width="2.6" stroke-linejoin="round"/><circle cx="391" cy="1734.5" r="16.75" fill="#a9a9a9" stroke="#8a8a8c" stroke-width="2.7"/><circle cx="391" cy="1734.5" r="8.2" fill="#f6f6f6" stroke="#8a8a8c" stroke-width="2.5"/><circle cx="391" cy="1734.5" r="3.85" fill="#d4e6b8"/>
<text x="391" y="1777.5" font-size="13.08" fill="#858585" text-anchor="middle" font-weight="bold" textLength="39.6" lengthAdjust="spacingAndGlyphs">CLOSE</text>
<rect x="420.5" y="1728.6" width="27.5" height="11.8" rx="1.5" fill="#8a8a8a"/><text x="434.25" y="1738.8" font-size="11.5" fill="#fff" text-anchor="middle" font-weight="bold" textLength="23.5" lengthAdjust="spacingAndGlyphs">U/L</text>
<text x="510" y="1610.9" font-size="15.7" fill="#858585" text-anchor="middle" font-weight="bold" textLength="62" lengthAdjust="spacingAndGlyphs">QUAD 3</text>
<rect x="488.5" y="1619.5" width="43.1" height="43" rx="3.5" fill="#efefef" stroke="#8a8a8c" stroke-width="2.6"/><rect x="497.1" y="1626.1" width="25.7" height="30.4" rx="1" fill="#c9c9c9" stroke="#bdbdbd" stroke-width="0.8"/>
<text x="510" y="1700.5" font-size="12.5" fill="#858585" text-anchor="middle" font-weight="bold" textLength="35.6" lengthAdjust="spacingAndGlyphs">OPEN</text>
<polygon points="484.45,1734.5 497.23,1712.55 522.77,1712.55 535.55,1734.5 522.77,1756.45 497.23,1756.45" fill="#e4e4e4" stroke="#8a8a8c" stroke-width="2.6" stroke-linejoin="round"/><circle cx="510" cy="1734.5" r="16.75" fill="#a9a9a9" stroke="#8a8a8c" stroke-width="2.7"/><circle cx="510" cy="1734.5" r="8.2" fill="#f6f6f6" stroke="#8a8a8c" stroke-width="2.5"/><circle cx="510" cy="1734.5" r="3.85" fill="#d4e6b8"/>
<text x="510" y="1777.5" font-size="13.08" fill="#858585" text-anchor="middle" font-weight="bold" textLength="39.6" lengthAdjust="spacingAndGlyphs">CLOSE</text>
<rect x="539.5" y="1728.6" width="27.5" height="11.8" rx="1.5" fill="#8a8a8a"/><text x="553.25" y="1738.8" font-size="11.5" fill="#fff" text-anchor="middle" font-weight="bold" textLength="23.5" lengthAdjust="spacingAndGlyphs">D/A</text>
<path d="M331.5,1140.3V1151.7M331.5,1168.3V1191.7M331.5,1209.05V1232.45M331.5,1249.8V1273.2M331.5,1290.55V1313.95M331.5,1331.3V1342.7M331.5,1374V1396.9M331.5,1413V1435.9M331.5,1452V1474.9M331.5,1491V1513.9M331.5,1530V1552.9M331.5,1569V1591.9M331.5,1608V1630.9M331.5,1647V1669.9M331.5,1686V1708.9M331.5,1725V1747.9M331.5,1764V1786.7M94.3,1581.6H104.7M121.3,1581.6H144.7M161.3,1581.6H184.7M201.3,1581.6H224.7M241.3,1581.6H264.7M281.3,1581.6H304.7M321.3,1581.6H344.7M361.3,1581.6H384.7M401.3,1581.6H424.7M441.3,1581.6H464.7M481.3,1581.6H504.7M521.3,1581.6H544.7M561.3,1581.6H568.7M94.3,1794.3H104.7M121.3,1794.3H144.7M161.3,1794.3H184.7M201.3,1794.3H224.7M241.3,1794.3H264.7M281.3,1794.3H304.7M321.3,1794.3H344.7M361.3,1794.3H384.7M401.3,1794.3H424.7M441.3,1794.3H464.7M481.3,1794.3H504.7M521.3,1794.3H544.7M561.3,1794.3H568.7" fill="none" stroke="#8a8a8c" stroke-width="2.6" stroke-linecap="round"/>
<path d="M93.3,2006 L93.3,1843 A8,8 0 0 1 101.3,1835 L124,1835 M182,1835 L204.5,1835 A8,8 0 0 1 212.5,1843 L212.5,2006" fill="none" stroke="#8a8a8c" stroke-width="2.6"/>
<text x="153.55" y="1840" font-size="15.26" fill="#858585" text-anchor="middle" font-weight="bold" textLength="49.9" lengthAdjust="spacingAndGlyphs">CRSFD</text>
<rect x="131.5" y="1848.2" width="43.1" height="43" rx="3.5" fill="#efefef" stroke="#8a8a8c" stroke-width="2.6"/><clipPath id="hc5"><rect x="140.1" y="1854.8" width="25.7" height="29.9" rx="2.5"/></clipPath><rect x="140.1" y="1854.8" width="25.7" height="29.9" rx="2.5" fill="#f8f9ea"/><g clip-path="url(#hc5)"><path d="M146.1,1849.8 L106.2,1889.7 M160.1,1849.8 L120.2,1889.7 M174.1,1849.8 L134.2,1889.7 M188.1,1849.8 L148.2,1889.7 M202.1,1849.8 L162.2,1889.7 " fill="none" stroke="#707075" stroke-width="2.7"/></g>
<text x="152.8" y="1930.5" font-size="13.81" fill="#858585" text-anchor="middle" font-weight="bold" textLength="35.6" lengthAdjust="spacingAndGlyphs">OPEN</text>
<polygon points="127.45,1964.6 140.22,1942.65 165.78,1942.65 178.55,1964.6 165.78,1986.55 140.22,1986.55" fill="#e4e4e4" stroke="#8a8a8c" stroke-width="2.6" stroke-linejoin="round"/><circle cx="153" cy="1964.6" r="16.75" fill="#a9a9a9" stroke="#8a8a8c" stroke-width="2.7"/><circle cx="153" cy="1964.6" r="8.2" fill="#f6f6f6" stroke="#8a8a8c" stroke-width="2.5"/><circle cx="153" cy="1964.6" r="3.85" fill="#d4e6b8"/>
<text x="153" y="2008" font-size="14.53" fill="#858585" text-anchor="middle" font-weight="bold" textLength="39.6" lengthAdjust="spacingAndGlyphs">CLOSE</text>
<path d="M331,2006 L331,1818.8 A8,8 0 0 1 339,1810.8 L404,1810.8 M494.5,1810.8 L562,1810.8 A8,8 0 0 1 570,1818.8 L570,2006" fill="none" stroke="#8a8a8c" stroke-width="2.6"/>
<text x="450.3" y="1815.8" font-size="16.42" fill="#858585" text-anchor="middle" font-weight="bold" textLength="84" lengthAdjust="spacingAndGlyphs">MAIN SOV</text>
<text x="391" y="1839.9" font-size="16.28" fill="#858585" text-anchor="middle" font-weight="bold" textLength="45" lengthAdjust="spacingAndGlyphs">SYS A</text>
<rect x="369.5" y="1848.2" width="43.1" height="43" rx="3.5" fill="#efefef" stroke="#8a8a8c" stroke-width="2.6"/><rect x="378.1" y="1854.8" width="25.7" height="30.4" rx="1" fill="#c9c9c9" stroke="#bdbdbd" stroke-width="0.8"/>
<text x="391" y="1930.5" font-size="13.81" fill="#858585" text-anchor="middle" font-weight="bold" textLength="35.6" lengthAdjust="spacingAndGlyphs">OPEN</text>
<polygon points="365.45,1964.6 378.23,1942.65 403.77,1942.65 416.55,1964.6 403.77,1986.55 378.23,1986.55" fill="#e4e4e4" stroke="#8a8a8c" stroke-width="2.6" stroke-linejoin="round"/><circle cx="391" cy="1964.6" r="16.75" fill="#a9a9a9" stroke="#8a8a8c" stroke-width="2.7"/><circle cx="391" cy="1964.6" r="8.2" fill="#f6f6f6" stroke="#8a8a8c" stroke-width="2.5"/><circle cx="391" cy="1964.6" r="3.85" fill="#d4e6b8"/>
<text x="391" y="2008" font-size="14.53" fill="#858585" text-anchor="middle" font-weight="bold" textLength="39.6" lengthAdjust="spacingAndGlyphs">CLOSE</text>
<text x="510" y="1839.9" font-size="16.28" fill="#858585" text-anchor="middle" font-weight="bold" textLength="45" lengthAdjust="spacingAndGlyphs">SYS B</text>
<rect x="488.5" y="1848.2" width="43.1" height="43" rx="3.5" fill="#efefef" stroke="#8a8a8c" stroke-width="2.6"/><rect x="497.1" y="1854.8" width="25.7" height="30.4" rx="1" fill="#c9c9c9" stroke="#bdbdbd" stroke-width="0.8"/>
<text x="510" y="1930.5" font-size="13.81" fill="#858585" text-anchor="middle" font-weight="bold" textLength="35.6" lengthAdjust="spacingAndGlyphs">OPEN</text>
<polygon points="484.45,1964.6 497.23,1942.65 522.77,1942.65 535.55,1964.6 522.77,1986.55 497.23,1986.55" fill="#e4e4e4" stroke="#8a8a8c" stroke-width="2.6" stroke-linejoin="round"/><circle cx="510" cy="1964.6" r="16.75" fill="#a9a9a9" stroke="#8a8a8c" stroke-width="2.7"/><circle cx="510" cy="1964.6" r="8.2" fill="#f6f6f6" stroke="#8a8a8c" stroke-width="2.5"/><circle cx="510" cy="1964.6" r="3.85" fill="#d4e6b8"/>
<text x="510" y="2008" font-size="14.53" fill="#858585" text-anchor="middle" font-weight="bold" textLength="39.6" lengthAdjust="spacingAndGlyphs">CLOSE</text>
<polygon points="726.4,1420.1 909.3,1420.1 1039.5,1549 1039.5,1734 909.3,1861.3 726.4,1861.3 596.5,1734 596.5,1549" fill="#fff" stroke="#8a8a8c" stroke-width="2.5"/>
<path d="M734.88,1462.77 Q741.6,1456.05 751.1,1456.05 L885.1,1456.05 Q894.6,1456.05 901.32,1462.77 L996.18,1557.63 Q1002.9,1564.35 1002.9,1573.85 L1002.9,1707.85 Q1002.9,1717.35 996.18,1724.07 L901.32,1818.93 Q894.6,1825.65 885.1,1825.65 L751.1,1825.65 Q741.6,1825.65 734.88,1818.93 L640.02,1724.07 Q633.3,1717.35 633.3,1707.85 L633.3,1573.85 Q633.3,1564.35 640.02,1557.63 Z" fill="#6f6e73" stroke="none" stroke-width="0"/>
<text x="817.85" y="1469.8" font-size="15.26" fill="#fff" text-anchor="middle" font-weight="bold" textLength="84.3" lengthAdjust="spacingAndGlyphs">ROLL RATE</text>
<rect x="740" y="1473" width="155.7" height="11.4" rx="2.5" fill="#fff"/>
<path d="M745,1484V1494M752.3,1484V1488M759.6,1484V1491M766.9,1484V1488M774.2,1484V1491M781.5,1484V1488M788.8,1484V1491M796.1,1484V1488M803.4,1484V1491M810.7,1484V1488M818,1484V1494M825.3,1484V1488M832.6,1484V1491M839.9,1484V1488M847.2,1484V1491M854.5,1484V1488M861.8,1484V1491M869.1,1484V1488M876.4,1484V1491M883.7,1484V1488M891,1484V1494" fill="none" stroke="#fff" stroke-width="2.2" stroke-linecap="round"/>
<polygon points="813.8,1474.5 822.2,1474.5 818,1481" fill="#6f6e73" stroke="none" stroke-width="0"/>
<text x="818" y="1505" font-size="13.52" fill="#fff" text-anchor="middle" font-weight="bold" textLength="9" lengthAdjust="spacingAndGlyphs">0</text>
<rect x="739.7" y="1798.1" width="156.3" height="11.2" rx="2.5" fill="#fff"/>
<path d="M745,1798.5V1788.5M752.3,1798.5V1794.5M759.6,1798.5V1791.5M766.9,1798.5V1794.5M774.2,1798.5V1791.5M781.5,1798.5V1794.5M788.8,1798.5V1791.5M796.1,1798.5V1794.5M803.4,1798.5V1791.5M810.7,1798.5V1794.5M818,1798.5V1788.5M825.3,1798.5V1794.5M832.6,1798.5V1791.5M839.9,1798.5V1794.5M847.2,1798.5V1791.5M854.5,1798.5V1794.5M861.8,1798.5V1791.5M869.1,1798.5V1794.5M876.4,1798.5V1791.5M883.7,1798.5V1794.5M891,1798.5V1788.5" fill="none" stroke="#fff" stroke-width="2.2" stroke-linecap="round"/>
<polygon points="813.8,1807 822.2,1807 818,1800.5" fill="#6f6e73" stroke="none" stroke-width="0"/>
<text x="817.3" y="1823.4" font-size="16.86" fill="#fff" text-anchor="middle" font-weight="bold" textLength="79.4" lengthAdjust="spacingAndGlyphs">YAW RATE</text>
<text x="818" y="1786.6" font-size="14.68" fill="#fff" text-anchor="middle" font-weight="bold" textLength="9" lengthAdjust="spacingAndGlyphs">0</text>
<rect x="975" y="1563" width="10.9" height="154.7" rx="1.5" fill="#fff"/>
<path d="M975.5,1567.5H966M975.5,1574.79H971.7M975.5,1582.07H969M975.5,1589.36H971.7M975.5,1596.64H969M975.5,1603.92H971.7M975.5,1611.21H969M975.5,1618.5H971.7M975.5,1625.78H969M975.5,1633.07H971.7M975.5,1640.35H966M975.5,1647.63H971.7M975.5,1654.92H969M975.5,1662.2H971.7M975.5,1669.49H969M975.5,1676.78H971.7M975.5,1684.06H969M975.5,1691.35H971.7M975.5,1698.63H969M975.5,1705.91H971.7M975.5,1713.2H966" fill="none" stroke="#fff" stroke-width="2.2" stroke-linecap="round"/>
<polygon points="985.2,1637.3 985.2,1644.9 978.4,1641.1" fill="#6f6e73" stroke="none" stroke-width="0"/>
<text x="960" y="1646.2" font-size="14.53" fill="#fff" text-anchor="middle" font-weight="bold" textLength="9" lengthAdjust="spacingAndGlyphs">0</text>
<text x="993.8" y="1590.8" font-size="15.84" fill="#fff" text-anchor="middle" font-weight="bold" textLength="8.3" lengthAdjust="spacingAndGlyphs">P</text>
<text x="993.8" y="1603.9" font-size="15.84" fill="#fff" text-anchor="middle" font-weight="bold" textLength="2.6" lengthAdjust="spacingAndGlyphs">I</text>
<text x="993.8" y="1616.8" font-size="15.7" fill="#fff" text-anchor="middle" font-weight="bold" textLength="8.3" lengthAdjust="spacingAndGlyphs">T</text>
<text x="993.8" y="1629.8" font-size="15.7" fill="#fff" text-anchor="middle" font-weight="bold" textLength="8.3" lengthAdjust="spacingAndGlyphs">C</text>
<text x="993.8" y="1643" font-size="15.84" fill="#fff" text-anchor="middle" font-weight="bold" textLength="8.3" lengthAdjust="spacingAndGlyphs">H</text>
<text x="993.8" y="1663.3" font-size="15.41" fill="#fff" text-anchor="middle" font-weight="bold" textLength="8.3" lengthAdjust="spacingAndGlyphs">R</text>
<text x="993.8" y="1674.9" font-size="15.84" fill="#fff" text-anchor="middle" font-weight="bold" textLength="8.3" lengthAdjust="spacingAndGlyphs">A</text>
<text x="993.8" y="1687.7" font-size="15.84" fill="#fff" text-anchor="middle" font-weight="bold" textLength="8.3" lengthAdjust="spacingAndGlyphs">T</text>
<text x="993.8" y="1700" font-size="15.7" fill="#fff" text-anchor="middle" font-weight="bold" textLength="8.3" lengthAdjust="spacingAndGlyphs">E</text>
<circle cx="818.2" cy="1641.4" r="131.8" fill="none" stroke="#a3a3a3" stroke-width="2.4"/>
<clipPath id="ballc"><circle cx="818.2" cy="1641.4" r="111"/></clipPath>
<g clip-path="url(#ballc)">
<rect x="705.2" y="1528.4" width="226" height="113" fill="#fff"/>
<path d="M767.2,1541.4 Q752.2,1641.4 767.2,1741.4" fill="none" stroke="#777" stroke-width="1.1"/>
<path d="M869.2,1541.4 Q884.2,1641.4 869.2,1741.4" fill="none" stroke="#777" stroke-width="1.1"/>
<path d="M708.2,1591.4 Q818.2,1568.4 928.2,1591.4" fill="none" stroke="#777" stroke-width="1.1"/>
<path d="M708.2,1691.4 Q818.2,1714.4 928.2,1691.4" fill="none" stroke="#ddd" stroke-width="1.1"/>
<path d="M725.2,1582.9H731.2M725.2,1594.6H731.2M725.2,1606.3H731.2 M728.2,1603.3V1609.3M725.2,1618H731.2M725.2,1629.7H731.2M784.2,1582.9H790.2M784.2,1594.6H790.2M784.2,1606.3H790.2 M787.2,1603.3V1609.3M784.2,1618H790.2M784.2,1629.7H790.2M844.2,1582.9H850.2M844.2,1594.6H850.2M844.2,1606.3H850.2 M847.2,1603.3V1609.3M844.2,1618H850.2M844.2,1629.7H850.2M904.2,1582.9H910.2M904.2,1594.6H910.2M904.2,1606.3H910.2 M907.2,1603.3V1609.3M904.2,1618H910.2M904.2,1629.7H910.2M685.9,1606.4V1612.4M700.6,1606.4V1612.4M715.3,1606.4V1612.4M730,1606.4V1612.4M744.7,1606.4V1612.4M759.4,1606.4V1612.4M774.1,1606.4V1612.4M788.8,1606.4V1612.4M803.5,1606.4V1612.4M818.2,1606.4V1612.4M832.9,1606.4V1612.4M847.6,1606.4V1612.4M862.3,1606.4V1612.4M877,1606.4V1612.4M891.7,1606.4V1612.4M906.4,1606.4V1612.4M921.1,1606.4V1612.4M935.8,1606.4V1612.4M950.5,1606.4V1612.4M700.6,1637.4V1641.4M715.3,1637.4V1641.4M730,1637.4V1641.4M744.7,1637.4V1641.4M759.4,1637.4V1641.4M774.1,1637.4V1641.4M788.8,1637.4V1641.4M803.5,1637.4V1641.4M818.2,1637.4V1641.4M832.9,1637.4V1641.4M847.6,1637.4V1641.4M862.3,1637.4V1641.4M877,1637.4V1641.4M891.7,1637.4V1641.4M906.4,1637.4V1641.4M921.1,1637.4V1641.4M935.8,1637.4V1641.4" fill="none" stroke="#8a8a8a" stroke-width="1.1"/>
<path d="M725.2,1653.1H731.2M725.2,1664.8H731.2M725.2,1676.5H731.2 M728.2,1673.5V1679.5M725.2,1688.2H731.2M725.2,1699.9H731.2M784.2,1653.1H790.2M784.2,1664.8H790.2M784.2,1676.5H790.2 M787.2,1673.5V1679.5M784.2,1688.2H790.2M784.2,1699.9H790.2M844.2,1653.1H850.2M844.2,1664.8H850.2M844.2,1676.5H850.2 M847.2,1673.5V1679.5M844.2,1688.2H850.2M844.2,1699.9H850.2M904.2,1653.1H910.2M904.2,1664.8H910.2M904.2,1676.5H910.2 M907.2,1673.5V1679.5M904.2,1688.2H910.2M904.2,1699.9H910.2M685.9,1667.4V1673.4M700.6,1667.4V1673.4M715.3,1667.4V1673.4M730,1667.4V1673.4M744.7,1667.4V1673.4M759.4,1667.4V1673.4M774.1,1667.4V1673.4M788.8,1667.4V1673.4M803.5,1667.4V1673.4M818.2,1667.4V1673.4M832.9,1667.4V1673.4M847.6,1667.4V1673.4M862.3,1667.4V1673.4M877,1667.4V1673.4M891.7,1667.4V1673.4M906.4,1667.4V1673.4M921.1,1667.4V1673.4M935.8,1667.4V1673.4M950.5,1667.4V1673.4" fill="none" stroke="#e6e6e6" stroke-width="1.1"/>
<text x="787" y="1588" font-size="12.5" fill="#666" text-anchor="middle" font-style="italic">3</text>
<text x="846.5" y="1588" font-size="12.5" fill="#666" text-anchor="middle" font-style="italic">3</text>
<text x="731" y="1594.5" font-size="12.5" fill="#666" text-anchor="middle" font-style="italic">3</text>
<text x="903" y="1594.5" font-size="12.5" fill="#666" text-anchor="middle" font-style="italic">3</text>
<text x="755" y="1616.5" font-size="12.5" fill="#666" text-anchor="middle" font-style="italic">33</text>
<text x="877" y="1616.5" font-size="12.5" fill="#666" text-anchor="middle" font-style="italic">3</text>
<text x="764" y="1561.5" font-size="12.5" fill="#666" text-anchor="middle" font-style="italic">33</text>
<text x="872.5" y="1561.5" font-size="12.5" fill="#666" text-anchor="middle" font-style="italic">3</text>
<text x="755" y="1674.5" font-size="12.5" fill="#fff" text-anchor="middle" font-style="italic">33</text>
<text x="877" y="1674.5" font-size="12.5" fill="#fff" text-anchor="middle" font-style="italic">3</text>
<text x="731" y="1697.5" font-size="12.5" fill="#fff" text-anchor="middle" font-style="italic">33</text>
<text x="787" y="1706.5" font-size="12.5" fill="#fff" text-anchor="middle" font-style="italic">33</text>
<text x="846.5" y="1706.5" font-size="12.5" fill="#fff" text-anchor="middle" font-style="italic">33</text>
<text x="903" y="1697.5" font-size="12.5" fill="#fff" text-anchor="middle" font-style="italic">33</text>
<text x="764" y="1731.5" font-size="12.5" fill="#fff" text-anchor="middle" font-style="italic">33</text>
<text x="872.5" y="1731.5" font-size="12.5" fill="#fff" text-anchor="middle" font-style="italic">3</text>
<rect x="724.4" y="1642.6" width="7.6" height="11.3" fill="none" stroke="#fff" stroke-width="1"/>
<text x="728.2" y="1652.4" font-size="10.5" fill="#fff" text-anchor="middle">0</text>
<rect x="783.4" y="1642.6" width="7.6" height="11.3" fill="none" stroke="#fff" stroke-width="1"/>
<text x="787.2" y="1652.4" font-size="10.5" fill="#fff" text-anchor="middle">0</text>
<rect x="843.4" y="1642.6" width="7.6" height="11.3" fill="none" stroke="#fff" stroke-width="1"/>
<text x="847.2" y="1652.4" font-size="10.5" fill="#fff" text-anchor="middle">0</text>
<rect x="903.4" y="1642.6" width="7.6" height="11.3" fill="none" stroke="#fff" stroke-width="1"/>
<text x="907.2" y="1652.4" font-size="10.5" fill="#fff" text-anchor="middle">0</text>
</g>
<path d="M930.67,1609.15 L931.5,1612.2 L932.25,1615.28 L932.91,1618.37 L933.49,1621.49 L933.99,1624.61 L934.4,1627.75 L934.73,1630.9 L934.97,1634.05 L935.13,1637.21 L935.2,1640.38 L935.18,1643.54 L935.08,1646.71 L934.89,1649.87 L934.62,1653.02 L934.26,1656.17 L933.82,1659.3 L933.3,1662.42 L932.69,1665.53 L931.99,1668.61 L931.21,1671.68" fill="none" stroke="#ea8a6b" stroke-width="10"/>
<path d="M705.19,1671.68 L704.48,1668.91 L703.84,1666.13 L703.27,1663.32 L702.77,1660.51 L702.34,1657.68 L701.98,1654.85 L701.68,1652 L701.46,1649.15 L701.3,1646.3 L701.22,1643.44 L701.2,1640.58 L701.26,1637.72 L701.38,1634.87 L701.58,1632.02 L701.84,1629.17 L702.17,1626.33 L702.58,1623.5 L703.05,1620.68 L703.59,1617.87 L704.2,1615.08" fill="none" stroke="#ea8a6b" stroke-width="10"/>
<path d="M828.18,1527.34L828.75,1520.86M838.08,1528.64L839.21,1522.24M847.83,1530.8L849.52,1524.52M857.36,1533.81L859.58,1527.7M866.59,1537.63L869.34,1531.74M874.7,1543.54L881.2,1532.28M883.87,1547.61L887.6,1542.28M891.8,1553.69L895.98,1548.71M899.16,1560.44L903.76,1555.84M905.91,1567.8L910.89,1563.62M911.99,1575.73L917.32,1572M916.06,1584.9L927.32,1578.4M921.97,1593.01L927.86,1590.26M925.79,1602.24L931.9,1600.02M928.8,1611.77L935.08,1610.08M930.96,1621.52L937.36,1620.39M932.26,1631.42L938.74,1630.85M932.26,1651.38L938.74,1651.95M930.96,1661.28L937.36,1662.41M928.8,1671.03L935.08,1672.72M925.79,1680.56L931.9,1682.78M921.97,1689.79L927.86,1692.54M916.06,1697.9L927.32,1704.4M911.99,1707.07L917.32,1710.8M905.91,1715L910.89,1719.18M899.16,1722.36L903.76,1726.96M891.8,1729.11L895.98,1734.09M883.87,1735.19L887.6,1740.52M874.7,1739.26L881.2,1750.52M866.59,1745.17L869.34,1751.06M857.36,1748.99L859.58,1755.1M847.83,1752L849.52,1758.28M838.08,1754.16L839.21,1760.56M828.18,1755.46L828.75,1761.94M808.22,1755.46L807.65,1761.94M798.32,1754.16L797.19,1760.56M788.57,1752L786.88,1758.28M779.04,1748.99L776.82,1755.1M769.81,1745.17L767.06,1751.06M761.7,1739.26L755.2,1750.52M752.53,1735.19L748.8,1740.52M744.6,1729.11L740.42,1734.09M737.24,1722.36L732.64,1726.96M730.49,1715L725.51,1719.18M724.41,1707.07L719.08,1710.8M720.34,1697.9L709.08,1704.4M714.43,1689.79L708.54,1692.54M710.61,1680.56L704.5,1682.78M707.6,1671.03L701.32,1672.72M705.44,1661.28L699.04,1662.41M704.14,1651.38L697.66,1651.95M704.14,1631.42L697.66,1630.85M705.44,1621.52L699.04,1620.39M707.6,1611.77L701.32,1610.08M710.61,1602.24L704.5,1600.02M714.43,1593.01L708.54,1590.26M720.34,1584.9L709.08,1578.4M724.41,1575.73L719.08,1572M730.49,1567.8L725.51,1563.62M737.24,1560.44L732.64,1555.84M744.6,1553.69L740.42,1548.71M752.53,1547.61L748.8,1542.28M761.7,1543.54L755.2,1532.28M769.81,1537.63L767.06,1531.74M779.04,1533.81L776.82,1527.7M788.57,1530.8L786.88,1524.52M798.32,1528.64L797.19,1522.24M808.22,1527.34L807.65,1520.86" fill="none" stroke="#fff" stroke-width="2.9" stroke-linecap="round"/>
<polygon points="698,1602.4 714.1,1609.8 706.7,1630.2 693.7,1644.3 688.2,1650.6 687.8,1627" fill="#e36a6e" stroke="none" stroke-width="0"/>
<text x="700" y="1628" font-size="11" fill="none" text-anchor="middle" stroke="#b04448" stroke-width="0.7" transform="rotate(-68 700 1624)">OFF</text>
<polygon points="693.7,1644.3 706.7,1636 707.5,1648 700,1652" fill="#fff" stroke="none" stroke-width="0"/>
<rect x="811.5" y="1530.4" width="13.5" height="219.9" fill="#f2f2f2"/>
<line x1="812.4" y1="1530.4" x2="812.4" y2="1641.4" stroke="#8a8a8a" stroke-width="1.9"/>
<line x1="824.1" y1="1530.4" x2="824.1" y2="1641.4" stroke="#8a8a8a" stroke-width="1.9"/>
<polygon points="813.4,1541 822.8,1541 818,1531.8" fill="#c1cbce" stroke="none" stroke-width="0"/>
<polygon points="818,1514.1 824.4,1521.9 818,1529.7 811.6,1521.9" fill="#fff" stroke="none" stroke-width="0"/>
<polygon points="818.3,1752.4 824.7,1760.2 818.3,1768 811.9,1760.2" fill="#fff" stroke="none" stroke-width="0"/>
<polygon points="937,1634.6 945,1641.6 937,1648.6 929,1641.6" fill="#fff" stroke="none" stroke-width="0"/>
<path d="M763.89,1524.94 L766.45,1523.78 L769.03,1522.68 L771.63,1521.64 L774.25,1520.65 L776.9,1519.72 L779.56,1518.85 L782.24,1518.03 L784.94,1517.28 L787.66,1516.58 L790.39,1515.95 L793.13,1515.37 L795.89,1514.85 L798.65,1514.4 L801.43,1514 L804.21,1513.66 L807,1513.39 L809.8,1513.18 L812.59,1513.02 L815.4,1512.93 L818.2,1512.9 L821,1512.93 L823.81,1513.02 L826.6,1513.18 L829.4,1513.39 L832.19,1513.66 L834.97,1514 L837.75,1514.4 L840.51,1514.85 L843.27,1515.37 L846.01,1515.95 L848.74,1516.58 L851.46,1517.28 L854.16,1518.03 L856.84,1518.85 L859.5,1519.72 L862.15,1520.65 L864.77,1521.64 L867.37,1522.68 L869.95,1523.78 L872.51,1524.94" fill="none" stroke="#f5cd77" stroke-width="1.6"/>
<path d="M763.89,1524.94L766.01,1529.47M774.25,1520.65L775.45,1523.94M784.94,1517.28L785.85,1520.66M795.89,1514.85L796.49,1518.3M807,1513.39L807.31,1516.88M818.2,1512.9L818.2,1516.4M829.4,1513.39L829.09,1516.88M840.51,1514.85L839.91,1518.3M851.46,1517.28L850.55,1520.66M862.15,1520.65L860.95,1523.94M872.51,1524.94L870.39,1529.47" fill="none" stroke="#f5cd77" stroke-width="1.3"/>
<path d="M931.66,1581.07 L933.1,1583.86 L934.47,1586.69 L935.77,1589.54 L937,1592.43 L938.17,1595.35 L939.25,1598.29 L940.27,1601.26 L941.22,1604.26 L942.09,1607.28 L942.88,1610.31 L943.61,1613.37 L944.25,1616.44 L944.82,1619.53 L945.32,1622.63 L945.74,1625.74 L946.09,1628.86 L946.35,1631.99 L946.55,1635.12 L946.66,1638.26 L946.7,1641.4 L946.66,1644.54 L946.55,1647.68 L946.35,1650.81 L946.09,1653.94 L945.74,1657.06 L945.32,1660.17 L944.82,1663.27 L944.25,1666.36 L943.61,1669.43 L942.88,1672.49 L942.09,1675.52 L941.22,1678.54 L940.27,1681.54 L939.25,1684.51 L938.17,1687.45 L937,1690.37 L935.77,1693.26 L934.47,1696.11 L933.1,1698.94 L931.66,1701.73" fill="none" stroke="#f5cd77" stroke-width="1.6"/>
<path d="M931.66,1581.07L927.24,1583.42M937,1592.43L933.77,1593.77M941.22,1604.26L937.86,1605.27M944.25,1616.44L940.82,1617.12M946.09,1628.86L942.6,1629.2M946.7,1641.4L943.2,1641.4M946.09,1653.94L942.6,1653.6M944.25,1666.36L940.82,1665.68M941.22,1678.54L937.86,1677.53M937,1690.37L933.77,1689.03M931.66,1701.73L927.24,1699.38" fill="none" stroke="#f5cd77" stroke-width="1.3"/>
<path d="M872.51,1757.86 L869.95,1759.02 L867.37,1760.12 L864.77,1761.16 L862.15,1762.15 L859.5,1763.08 L856.84,1763.95 L854.16,1764.77 L851.46,1765.52 L848.74,1766.22 L846.01,1766.85 L843.27,1767.43 L840.51,1767.95 L837.75,1768.4 L834.97,1768.8 L832.19,1769.14 L829.4,1769.41 L826.6,1769.62 L823.81,1769.78 L821,1769.87 L818.2,1769.9 L815.4,1769.87 L812.59,1769.78 L809.8,1769.62 L807,1769.41 L804.21,1769.14 L801.43,1768.8 L798.65,1768.4 L795.89,1767.95 L793.13,1767.43 L790.39,1766.85 L787.66,1766.22 L784.94,1765.52 L782.24,1764.77 L779.56,1763.95 L776.9,1763.08 L774.25,1762.15 L771.63,1761.16 L769.03,1760.12 L766.45,1759.02 L763.89,1757.86" fill="none" stroke="#f5cd77" stroke-width="1.6"/>
<path d="M872.51,1757.86L870.39,1753.33M862.15,1762.15L860.95,1758.86M851.46,1765.52L850.55,1762.14M840.51,1767.95L839.91,1764.5M829.4,1769.41L829.09,1765.92M818.2,1769.9L818.2,1766.4M807,1769.41L807.31,1765.92M795.89,1767.95L796.49,1764.5M784.94,1765.52L785.85,1762.14M774.25,1762.15L775.45,1758.86M763.89,1757.86L766.01,1753.33" fill="none" stroke="#f5cd77" stroke-width="1.3"/>
<line x1="792.5" y1="1513.4" x2="792.5" y2="1580.5" stroke="#f5cd77" stroke-width="2.5"/>
<line x1="878.6" y1="1615.8" x2="946" y2="1615.8" stroke="#f5cd77" stroke-width="2.5"/>
<line x1="843.6" y1="1702" x2="843.6" y2="1768" stroke="#f5cd77" stroke-width="2.5"/>
<defs><radialGradient id="pinkg" cx="50%" cy="50%" r="65%"><stop offset="0" stop-color="#fbe0e6"/><stop offset="1" stop-color="#f28da0"/></radialGradient><radialGradient id="yelg" cx="50%" cy="50%" r="55%"><stop offset="0" stop-color="#fff1c0"/><stop offset="1" stop-color="#f6c850"/></radialGradient><filter id="blur4" x="-30%" y="-30%" width="160%" height="160%"><feGaussianBlur stdDeviation="3.5"/></filter></defs>
<rect x="1075" y="1440.8" width="94.7" height="94.2" rx="7" fill="#fff" stroke="#8a8a8c" stroke-width="2.4"/>
<rect x="1083" y="1449" width="79" height="78" rx="4" fill="#f9c7d2" filter="url(#blur4)" opacity="0.8"/>
<rect x="1085" y="1450.8" width="75" height="74.5" rx="3" fill="url(#pinkg)" stroke="#8a8a8c" stroke-width="2.6"/>
<text x="1122.05" y="1483.8" font-size="15.26" fill="#757575" text-anchor="middle" font-weight="bold" textLength="62.5" lengthAdjust="spacingAndGlyphs">MASTER</text>
<text x="1122.1" y="1501.7" font-size="15.12" fill="#757575" text-anchor="middle" font-weight="bold" textLength="54.8" lengthAdjust="spacingAndGlyphs">ALARM</text>
<text x="1121.9" y="1571.7" font-size="15.12" fill="#858585" text-anchor="middle" font-weight="bold" textLength="122.2" lengthAdjust="spacingAndGlyphs">RATE/ERR MON</text>
<text x="1122.5" y="1585.5" font-size="11.63" fill="#858585" text-anchor="middle" font-weight="bold" textLength="85" lengthAdjust="spacingAndGlyphs">RNDZ RADAR</text>
<polygon points="1095.9,1619.2 1109.05,1596.25 1135.35,1596.25 1148.5,1619.2 1135.35,1642.15 1109.05,1642.15" fill="#e0e0e0" stroke="#8a8a8c" stroke-width="2.6" stroke-linejoin="round"/><circle cx="1122.2" cy="1619.2" r="17.6" fill="#ababab" stroke="#8a8a8c" stroke-width="2.6"/>
<rect x="1117" y="1610.5" width="10.5" height="15" rx="4" fill="#f4f4f4" stroke="#8a8a8c" stroke-width="2"/>
<rect x="1109.5" y="1588" width="26.3" height="24.5" fill="#f4f4f4" stroke="#8a8a8c" stroke-width="2.5"/>
<line x1="1112.5" y1="1590.8" x2="1133" y2="1590.8" stroke="#d4e6b8" stroke-width="1.6"/>
<text x="1122.4" y="1662.5" font-size="12.35" fill="#858585" text-anchor="middle" font-weight="bold" textLength="106.8" lengthAdjust="spacingAndGlyphs">LDG RDR/CMPTR</text>
<text x="1121.5" y="1701.7" font-size="15.84" fill="#858585" text-anchor="middle" font-weight="bold" textLength="123" lengthAdjust="spacingAndGlyphs">ATTITUDE MON</text>
<text x="1122.35" y="1714" font-size="11.92" fill="#858585" text-anchor="middle" font-weight="bold" textLength="35.3" lengthAdjust="spacingAndGlyphs">PGNS</text>
<polygon points="1095.9,1749 1109.05,1726.05 1135.35,1726.05 1148.5,1749 1135.35,1771.95 1109.05,1771.95" fill="#e0e0e0" stroke="#8a8a8c" stroke-width="2.6" stroke-linejoin="round"/><circle cx="1122.2" cy="1749" r="17.6" fill="#ababab" stroke="#8a8a8c" stroke-width="2.6"/>
<rect x="1117" y="1735" width="10.5" height="15" rx="4" fill="#f4f4f4" stroke="#8a8a8c" stroke-width="2"/>
<rect x="1109.5" y="1756.5" width="25.5" height="23.5" fill="#f4f4f4" stroke="#8a8a8c" stroke-width="2.5"/>
<line x1="1112.5" y1="1777.3" x2="1132" y2="1777.3" stroke="#d4e6b8" stroke-width="1.6"/>
<text x="1122.15" y="1791" font-size="11.63" fill="#858585" text-anchor="middle" font-weight="bold" textLength="26.3" lengthAdjust="spacingAndGlyphs">AGS</text>
<text x="688.55" y="1929.9" font-size="14.53" fill="#858585" text-anchor="middle" font-weight="bold" textLength="61.7" lengthAdjust="spacingAndGlyphs">GLYCOL</text>
<clipPath id="kc688_2007"><circle cx="688.6" cy="2007" r="64"/></clipPath><circle cx="688.6" cy="2007" r="64" fill="#ebebeb"/><g clip-path="url(#kc688_2007)"><polygon points="610,2012 681,1979 752,1984.5 755,1993 696,2034 610,2042" fill="#dcdcdc" stroke="#8a8a8c" stroke-width="2.6" stroke-linejoin="round"/></g><circle cx="688.6" cy="2007" r="64" fill="none" stroke="#8a8a8c" stroke-width="2.8"/><polygon points="707,1998.5 741,1990 742.5,1996 708.5,2004.5" fill="#f4f4f4" stroke="#8a8a8c" stroke-width="2.2"/><circle cx="688.6" cy="2007" r="7" fill="#f0f0f0" stroke="#8a8a8c" stroke-width="2.5"/><path d="M734.6,1960L740,1955.6M751,1990L759,1988M753,2024L759,2026" fill="none" stroke="#8a8a8c" stroke-width="2.4" stroke-linecap="round"/>
<text x="777" y="1958" font-size="13.08" fill="#858585" text-anchor="middle" font-weight="bold" textLength="66" lengthAdjust="spacingAndGlyphs">INST (SEC)</text>
<text x="776.8" y="1984" font-size="12.21" fill="#858585" text-anchor="middle" font-weight="bold" textLength="36.4" lengthAdjust="spacingAndGlyphs">PUMP</text>
<text x="777" y="1996" font-size="11.63" fill="#858585" text-anchor="middle" font-weight="bold" textLength="6" lengthAdjust="spacingAndGlyphs">1</text>
<text x="778" y="2021.6" font-size="12.5" fill="#858585" text-anchor="middle" font-weight="bold" textLength="36.8" lengthAdjust="spacingAndGlyphs">PUMP</text>
<text x="778" y="2033.6" font-size="11.63" fill="#858585" text-anchor="middle" font-weight="bold" textLength="7" lengthAdjust="spacingAndGlyphs">2</text>
<polygon points="803,2006.8 816,1984.4 842,1984.4 855,2006.8 842,2029.2 816,2029.2" fill="#e6e6e6" stroke="#8a8a8c" stroke-width="2.6" stroke-linejoin="round"/><circle cx="829" cy="2006.8" r="17.6" fill="#eaeaea" stroke="#8a8a8c" stroke-width="2.6"/>
<rect x="794.4" y="2051" width="68.2" height="13.4" rx="1.5" fill="#8a8a8a"/><text x="828.5" y="2061.8" font-size="15.12" fill="#fff" text-anchor="middle" font-weight="bold" textLength="61" lengthAdjust="spacingAndGlyphs">AGS (AEA)</text>
<text x="688.35" y="2142.5" font-size="15.99" fill="#858585" text-anchor="middle" font-weight="bold" textLength="75.1" lengthAdjust="spacingAndGlyphs">SUIT FAN</text>
<clipPath id="kc688_2218"><circle cx="688.6" cy="2218.6" r="64"/></clipPath><circle cx="688.6" cy="2218.6" r="64" fill="#ebebeb"/><g clip-path="url(#kc688_2218)"><polygon points="610,2185 696.2,2192.4 753,2230 750.6,2238.3 683,2245.7 610,2221" fill="#dcdcdc" stroke="#8a8a8c" stroke-width="2.6" stroke-linejoin="round"/></g><circle cx="688.6" cy="2218.6" r="64" fill="none" stroke="#8a8a8c" stroke-width="2.8"/><polygon points="705.5,2213.5 740.5,2227.5 738.5,2233 703.5,2219" fill="#f4f4f4" stroke="#8a8a8c" stroke-width="2.2"/><circle cx="688.6" cy="2218.6" r="7" fill="#f0f0f0" stroke="#8a8a8c" stroke-width="2.5"/><path d="M735.7,2174L740.7,2166.7M750.6,2201L760.5,2198.8M753,2236L763,2238.3" fill="none" stroke="#8a8a8c" stroke-width="2.4" stroke-linecap="round"/>
<text x="755.5" y="2171.6" font-size="14.39" fill="#858585" text-anchor="middle" font-weight="bold" textLength="25" lengthAdjust="spacingAndGlyphs">OFF</text>
<text x="769.5" y="2204" font-size="13.08" fill="#858585" text-anchor="middle" font-weight="bold" textLength="5" lengthAdjust="spacingAndGlyphs">1</text>
<text x="769.5" y="2242" font-size="13.08" fill="#858585" text-anchor="middle" font-weight="bold" textLength="7" lengthAdjust="spacingAndGlyphs">2</text>
<polygon points="802.9,2219.2 815.9,2196.8 841.9,2196.8 854.9,2219.2 841.9,2241.6 815.9,2241.6" fill="#e6e6e6" stroke="#8a8a8c" stroke-width="2.6" stroke-linejoin="round"/><circle cx="828.9" cy="2219.2" r="17.6" fill="#eaeaea" stroke="#8a8a8c" stroke-width="2.6"/>
<text x="909.4" y="2032.4" font-size="13.81" fill="#858585" text-anchor="middle" font-weight="bold" textLength="12.2" lengthAdjust="spacingAndGlyphs">O</text>
<text x="919.65" y="2035.9" font-size="11.19" fill="#858585" text-anchor="middle" font-weight="bold" textLength="6.9" lengthAdjust="spacingAndGlyphs">2</text>
<text x="928.85" y="2032.4" font-size="13.81" fill="#858585" text-anchor="middle" font-weight="bold" textLength="6.3" lengthAdjust="spacingAndGlyphs">/</text>
<text x="940.8" y="2032.4" font-size="13.81" fill="#858585" text-anchor="middle" font-weight="bold" textLength="11.2" lengthAdjust="spacingAndGlyphs">H</text>
<text x="950.75" y="2035.9" font-size="11.19" fill="#858585" text-anchor="middle" font-weight="bold" textLength="6.9" lengthAdjust="spacingAndGlyphs">2</text>
<text x="961.5" y="2032.4" font-size="13.81" fill="#858585" text-anchor="middle" font-weight="bold" textLength="11.2" lengthAdjust="spacingAndGlyphs">O</text>
<text x="1013.3" y="2032.4" font-size="13.81" fill="#858585" text-anchor="middle" font-weight="bold" textLength="76.8" lengthAdjust="spacingAndGlyphs">QTY MON</text>
<clipPath id="kc977_2117"><circle cx="977.8" cy="2117.3" r="64.2"/></clipPath><circle cx="977.8" cy="2117.3" r="64.2" fill="#ebebeb"/><g clip-path="url(#kc977_2117)"><polygon points="985.3,2055.5 1000,2058 1005,2124.7 985,2190 940,2190 950.7,2107.4" fill="#dcdcdc" stroke="#8a8a8c" stroke-width="2.6" stroke-linejoin="round"/></g><circle cx="977.8" cy="2117.3" r="64.2" fill="none" stroke="#8a8a8c" stroke-width="2.8"/><polygon points="988,2066 996,2068.5 987.5,2100 979.5,2097.5" fill="#f4f4f4" stroke="#8a8a8c" stroke-width="2.2"/><circle cx="977.8" cy="2117.3" r="7" fill="#f0f0f0" stroke="#8a8a8c" stroke-width="2.5"/><path d="M958.5,2047L961,2053.5M994.8,2053.5L997,2047M1024,2070.4L1029.3,2065M1041.3,2100.6L1047.4,2098.3" fill="none" stroke="#8a8a8c" stroke-width="2.4" stroke-linecap="round"/>
<text x="921.85" y="2052.5" font-size="11.63" fill="#858585" text-anchor="middle" font-weight="bold" textLength="68.1" lengthAdjust="spacingAndGlyphs">C/W RESET</text>
<text x="1012.45" y="2052.5" font-size="11.63" fill="#858585" text-anchor="middle" font-weight="bold" textLength="23.3" lengthAdjust="spacingAndGlyphs">DES</text>
<text x="1049.95" y="2069.7" font-size="11.48" fill="#858585" text-anchor="middle" font-weight="bold" textLength="34.5" lengthAdjust="spacingAndGlyphs">ASC 1</text>
<text x="1069.4" y="2102.5" font-size="11.48" fill="#858585" text-anchor="middle" font-weight="bold" textLength="35.4" lengthAdjust="spacingAndGlyphs">ACS 2</text>
<text x="930.1" y="2213.9" font-size="15.55" fill="#858585" text-anchor="middle" font-weight="bold" textLength="21.8" lengthAdjust="spacingAndGlyphs">CO</text>
<text x="946.95" y="2216.7" font-size="15.12" fill="#858585" text-anchor="middle" font-weight="bold" textLength="8.3" lengthAdjust="spacingAndGlyphs">2</text>
<polygon points="909.4,2244.9 922.4,2222.5 948.4,2222.5 961.4,2244.9 948.4,2267.3 922.4,2267.3" fill="#e6e6e6" stroke="#8a8a8c" stroke-width="2.6" stroke-linejoin="round"/><circle cx="935.4" cy="2244.9" r="17.6" fill="#eaeaea" stroke="#8a8a8c" stroke-width="2.6"/>
<text x="991.05" y="2213.9" font-size="15.7" fill="#2b2b2b" text-anchor="middle" font-weight="bold" textLength="10.3" lengthAdjust="spacingAndGlyphs">H</text>
<text x="1002.55" y="2216.9" font-size="15.41" fill="#2b2b2b" text-anchor="middle" font-weight="bold" textLength="8.5" lengthAdjust="spacingAndGlyphs">2</text>
<text x="1014.55" y="2213.9" font-size="15.7" fill="#2b2b2b" text-anchor="middle" font-weight="bold" textLength="11.3" lengthAdjust="spacingAndGlyphs">O</text>
<text x="1041.15" y="2213.9" font-size="15.7" fill="#2b2b2b" text-anchor="middle" font-weight="bold" textLength="27.9" lengthAdjust="spacingAndGlyphs">SEP</text>
<polygon points="994.1,2244.9 1007.1,2222.5 1033.1,2222.5 1046.1,2244.9 1033.1,2267.3 1007.1,2267.3" fill="#efe4c6" stroke="#2e2e2e" stroke-width="3.2" stroke-linejoin="round"/><circle cx="1020.1" cy="2244.9" r="17.6" fill="url(#yelg)" stroke="#2e2e2e" stroke-width="3"/>
<text x="165.4" y="2061" font-size="16.28" fill="#858585" text-anchor="middle" font-weight="bold" textLength="144.2" lengthAdjust="spacingAndGlyphs">TEMP/PRESS MON</text>
<clipPath id="kc152_2143"><circle cx="152.7" cy="2143.3" r="64.4"/></clipPath><circle cx="152.7" cy="2143.3" r="64.4" fill="#ebebeb"/><g clip-path="url(#kc152_2143)"><polygon points="80,2142 145.2,2116.3 215.5,2120.4 216.5,2124.6 159.8,2170.3 80,2179" fill="#dcdcdc" stroke="#8a8a8c" stroke-width="2.6" stroke-linejoin="round"/></g><circle cx="152.7" cy="2143.3" r="64.4" fill="none" stroke="#8a8a8c" stroke-width="2.8"/><polygon points="170.1,2133 205.5,2126.5 206.5,2132.5 171.1,2139" fill="#f4f4f4" stroke="#8a8a8c" stroke-width="2.2"/><circle cx="152.7" cy="2143.3" r="7" fill="#f0f0f0" stroke="#8a8a8c" stroke-width="2.5"/><path d="M134.8,2072.6L136.9,2078.9M170,2072.6L168,2079M199.2,2096.7L203.4,2091.3M215.9,2124.6L224.2,2122.5" fill="none" stroke="#8a8a8c" stroke-width="2.4" stroke-linecap="round"/>
<rect x="68.3" y="2067.6" width="38.2" height="23.7" fill="#8a8a8a"/>
<text x="69.5" y="2078.6" font-size="11.5" fill="#fff" font-weight="bold" textLength="35" lengthAdjust="spacingAndGlyphs">2550/</text>
<text x="69.5" y="2090" font-size="11.5" fill="#fff" font-weight="bold" textLength="30" lengthAdjust="spacingAndGlyphs">3480</text>
<text x="122.35" y="2079" font-size="14.53" fill="#858585" text-anchor="middle" font-weight="bold" textLength="16.7" lengthAdjust="spacingAndGlyphs">He</text>
<text x="199.75" y="2079" font-size="14.53" fill="#858585" text-anchor="middle" font-weight="bold" textLength="48.5" lengthAdjust="spacingAndGlyphs">PRPLNT</text>
<rect x="236.6" y="2067.6" width="53.2" height="11.9" rx="1.5" fill="#8a8a8a"/><text x="263.2" y="2076.9" font-size="12.94" fill="#fff" text-anchor="middle" font-weight="bold" textLength="50.2" lengthAdjust="spacingAndGlyphs">178/188</text>
<text x="245.4" y="2096.7" font-size="14.83" fill="#858585" text-anchor="middle" font-weight="bold" textLength="74" lengthAdjust="spacingAndGlyphs">FUEL MANF</text>
<rect x="245" y="2097.6" width="54" height="11.6" rx="1.5" fill="#8a8a8a"/><text x="272" y="2106.6" font-size="12.5" fill="#fff" text-anchor="middle" font-weight="bold" textLength="51" lengthAdjust="spacingAndGlyphs">175/188</text>
<text x="242.5" y="2122.5" font-size="14.53" fill="#858585" text-anchor="middle" font-weight="bold" textLength="32.4" lengthAdjust="spacingAndGlyphs">OXID</text>
<text x="244.8" y="2134" font-size="13.66" fill="#858585" text-anchor="middle" font-weight="bold" textLength="37.6" lengthAdjust="spacingAndGlyphs">MANF</text>
<rect x="236.6" y="2136" width="53.2" height="11.5" rx="1.5" fill="#8a8a8a"/><text x="263.2" y="2144.9" font-size="12.35" fill="#fff" text-anchor="middle" font-weight="bold" textLength="50.2" lengthAdjust="spacingAndGlyphs">175/188</text>
<text x="510" y="2095" font-size="15.84" fill="#858585" text-anchor="middle" font-weight="bold" textLength="82" lengthAdjust="spacingAndGlyphs">ACA PROP</text>
<text x="510.4" y="2108.8" font-size="12.5" fill="#858585" text-anchor="middle" font-weight="bold" textLength="49" lengthAdjust="spacingAndGlyphs">ENABLE</text>
<polygon points="483.9,2142.8 497.05,2119.85 523.35,2119.85 536.5,2142.8 523.35,2165.75 497.05,2165.75" fill="#e0e0e0" stroke="#8a8a8c" stroke-width="2.6" stroke-linejoin="round"/><circle cx="510.2" cy="2142.8" r="17.6" fill="#ababab" stroke="#8a8a8c" stroke-width="2.6"/>
<path d="M502.4,2124 L504.6,2145 Q510,2152 515.4,2145 L517.6,2124 Z" fill="#f4f4f4" stroke="#8a8a8c" stroke-width="2.5"/>
<path d="M506.5,2144.5 Q510,2147 513.5,2144.5" fill="none" stroke="#fff" stroke-width="1.5"/>
<circle cx="510" cy="2119.6" r="8.5" fill="#f4f4f4" stroke="#8a8a8c" stroke-width="2.5"/>
<path d="M505.5,2114 Q510,2111.5 514.5,2114" fill="none" stroke="#d4e6b8" stroke-width="2"/>
<text x="510.45" y="2185.7" font-size="12.65" fill="#858585" text-anchor="middle" font-weight="bold" textLength="52.9" lengthAdjust="spacingAndGlyphs">DISABLE</text>
<path d="M0,2338.2 L118.5,2338.2 A25,25 0 0 1 143.5,2363.2 L143.5,2397 L0,2397 Z" fill="#cbcbcb" stroke="none" stroke-width="0"/>
<text x="71.5" y="2380.6" font-size="30.81" fill="#888888" text-anchor="middle" font-weight="bold" textLength="111" lengthAdjust="spacingAndGlyphs">Panel 2</text>
</svg></body></html>
